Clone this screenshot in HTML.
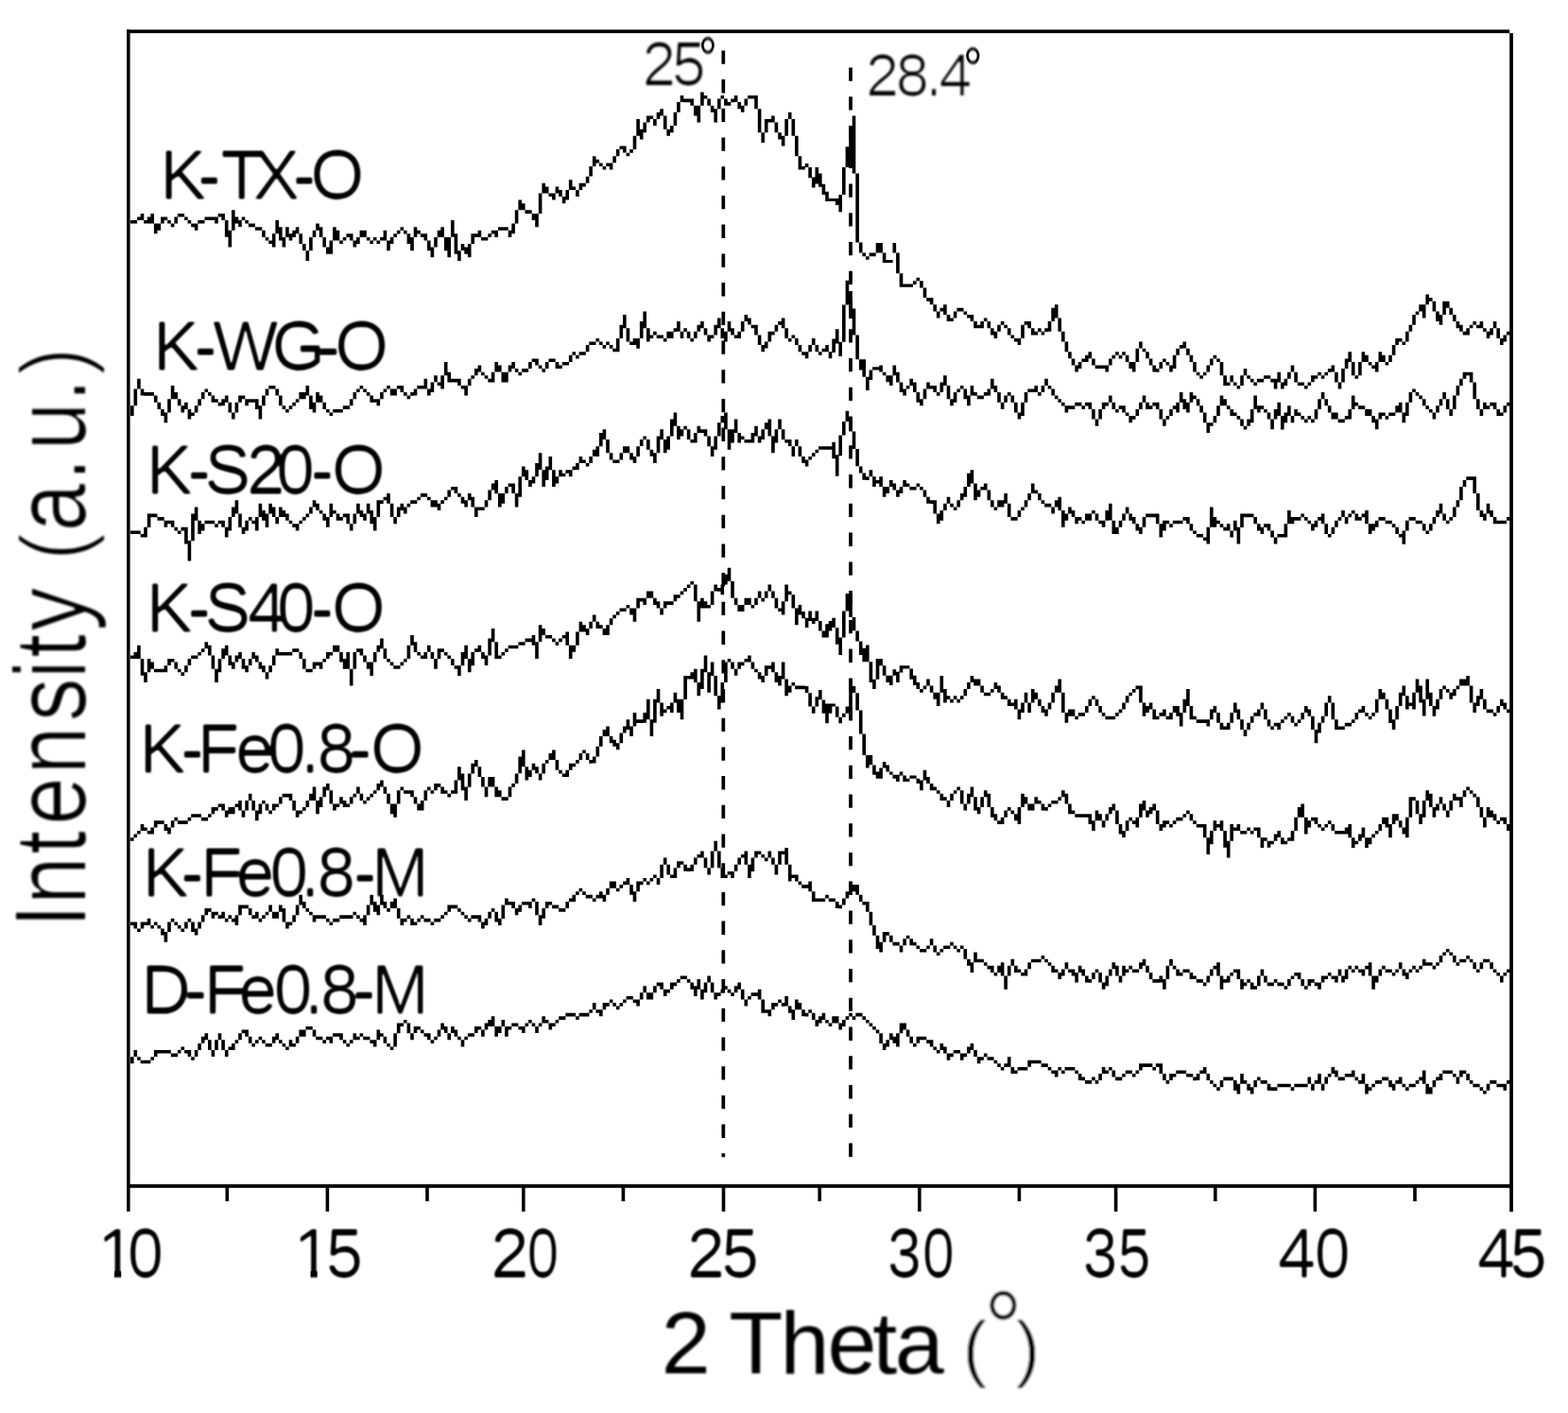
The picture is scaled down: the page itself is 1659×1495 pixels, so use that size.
<!DOCTYPE html>
<html lang="en"><head><meta charset="utf-8"><title>XRD patterns</title>
<style>html,body{margin:0;padding:0;background:#fff}body{width:1659px;height:1495px;overflow:hidden}svg{display:block}text{font-family:'Liberation Sans', sans-serif;fill:#000}</style>
</head><body>
<svg width="1659" height="1495" viewBox="0 0 1659 1495">
<rect x="0" y="0" width="1659" height="1495" fill="#fff"/>
<defs><filter id="lbl" x="-5%" y="-5%" width="110%" height="110%"><feMorphology operator="erode" radius="1 0"/><feGaussianBlur stdDeviation="0.9"/><feComponentTransfer><feFuncA type="table" tableValues="0 0.4 0.75 0.95 1"/></feComponentTransfer></filter><filter id="ann" x="-5%" y="-5%" width="110%" height="110%"><feMorphology operator="erode" radius="1 0"/><feGaussianBlur stdDeviation="0.9"/></filter><filter id="ytl" x="-5%" y="-5%" width="110%" height="110%"><feMorphology operator="erode" radius="0 1"/><feGaussianBlur stdDeviation="0.9"/></filter><filter id="par" x="-5%" y="-5%" width="110%" height="110%"><feMorphology operator="erode" radius="1"/><feGaussianBlur stdDeviation="0.9"/></filter><filter id="soft" x="-5%" y="-5%" width="110%" height="110%"><feGaussianBlur stdDeviation="0.9"/></filter></defs>
<g id="series-labels" filter="url(#lbl)">
<text x="169.2 209.2 233.4 267.9 309.8 328.6" y="209.8" font-size="73">K-TX-O</text>
<text x="161.9 205.3 225.3 287.5 335.5 354.2" y="390.9" font-size="73">K-WG-O</text>
<text x="154.7 198.6 216.4 261.1 292.2 328.8 351.1" y="522.4" font-size="73">K-S20-O</text>
<text x="154.7 198.6 216.4 261.9 293.1 328.8 351.1" y="667.8" font-size="73">K-S40-O</text>
<text x="147.5 191.2 208.7 249.2 282.9 318.1 335.6 369.1 392.1" y="816.6" font-size="73">K-Fe0.8-O</text>
<text x="150.7 191.2 212.0 249.7 285.4 318.1 335.6 374.0 393.1" y="947.7" font-size="73">K-Fe0.8-M</text>
<text x="149.2 195.1 215.8 252.6 289.7 322.0 338.9 373.0 393.1" y="1071.6" font-size="73">D-Fe0.8-M</text>
</g>
<g id="peak-labels">
<text filter="url(#ann)" x="679.4" y="89.9" font-size="64.26" letter-spacing="-4.00">25</text>
<text transform="translate(739.1,84.1) scale(0.768,1)" font-size="64.6" fill="#222" filter="url(#soft)">°</text>
<text filter="url(#ann)" x="916.1" y="100.6" font-size="63.39" letter-spacing="-3.67">28.4</text>
<text transform="translate(1019.1,94.9) scale(0.796,1)" font-size="64.6" fill="#222" filter="url(#soft)">°</text>
</g>
<g id="x-axis-ticks" filter="url(#lbl)">
<text y="1351.2" font-size="72.5"><tspan x="103.1" textLength="40.32" lengthAdjust="spacingAndGlyphs">1</tspan><tspan x="134.9" textLength="37.86" lengthAdjust="spacingAndGlyphs">0</tspan></text>
<text y="1351.2" font-size="72.5"><tspan x="310.6" textLength="40.32" lengthAdjust="spacingAndGlyphs">1</tspan><tspan x="344.9" textLength="38.95" lengthAdjust="spacingAndGlyphs">5</tspan></text>
<text y="1351.2" font-size="72.5"><tspan x="519.2" textLength="40.44" lengthAdjust="spacingAndGlyphs">2</tspan><tspan x="557.7" textLength="33.39" lengthAdjust="spacingAndGlyphs">0</tspan></text>
<text y="1351.2" font-size="72.5"><tspan x="727.0" textLength="39.96" lengthAdjust="spacingAndGlyphs">2</tspan><tspan x="763.4" textLength="39.39" lengthAdjust="spacingAndGlyphs">5</tspan></text>
<text y="1351.2" font-size="72.5"><tspan x="938.9" textLength="35.81" lengthAdjust="spacingAndGlyphs">3</tspan><tspan x="976.1" textLength="33.71" lengthAdjust="spacingAndGlyphs">0</tspan></text>
<text y="1351.2" font-size="72.5"><tspan x="1145.8" textLength="36.53" lengthAdjust="spacingAndGlyphs">3</tspan><tspan x="1182.8" textLength="34.80" lengthAdjust="spacingAndGlyphs">5</tspan></text>
<text y="1351.2" font-size="72.5"><tspan x="1352.0" textLength="40.00" lengthAdjust="spacingAndGlyphs">4</tspan><tspan x="1390.9" textLength="37.42" lengthAdjust="spacingAndGlyphs">0</tspan></text>
<text y="1351.2" font-size="72.5"><tspan x="1563.0" textLength="40.00" lengthAdjust="spacingAndGlyphs">4</tspan><tspan x="1597.8" textLength="38.95" lengthAdjust="spacingAndGlyphs">5</tspan></text>
</g>
<g id="x-axis-title" filter="url(#soft)">
<text x="699.7 745 771.3 825.4 875.4 923.3 946.8" y="1453.3" font-size="93.5">2 Theta</text>
</g>
<g id="x-axis-unit" filter="url(#soft)">
<text y="1452.5" font-size="78"><tspan x="1018.5" stroke="#fff" stroke-width="0.8">(</tspan><tspan x="1040.8" dy="-7.2" font-size="112.5" textLength="41.4" lengthAdjust="spacingAndGlyphs" stroke="#fff" stroke-width="1">°</tspan><tspan x="1074.5" dy="7.2" stroke="#fff" stroke-width="0.8">)</tspan></text>
</g>
<g id="y-title" filter="url(#ytl)">
<text transform="translate(89.9,1000.0) rotate(-90) scale(0.873,1)" font-size="106"><tspan x="20.5 48.8 109.7 145.2 206.6 270.9 322.6 347.9 380.7 430">Intensity </tspan><tspan font-size="96.5" x="466.4">(</tspan><tspan x="500.9 562.0 599.4 657.8">a.u.</tspan><tspan font-size="96.5" x="692.0">)</tspan></text>
</g>
<rect x="104.10" y="1342.6" width="16.90" height="12" fill="#fff"/>
<rect x="128.20" y="1342.6" width="12.6" height="12" fill="#fff"/>
<rect x="311.60" y="1342.6" width="16.90" height="12" fill="#fff"/>
<rect x="335.70" y="1342.6" width="12.6" height="12" fill="#fff"/>
<g fill="#000">
<rect x="134.1" y="31.4" width="1463.1" height="3.7"/>
<rect x="134.1" y="31.4" width="3.5" height="1250.4"/>
<rect x="1597.2" y="35" width="3.7" height="1247"/>
<rect x="134.1" y="1253" width="1466.8" height="3.8"/>
<rect x="344.6" y="1255" width="3.6" height="26.8"/>
<rect x="552.0" y="1255" width="3.6" height="26.8"/>
<rect x="763.7" y="1255" width="3.6" height="26.8"/>
<rect x="971.0" y="1255" width="3.6" height="26.8"/>
<rect x="1178.8" y="1255" width="3.6" height="26.8"/>
<rect x="1389.6" y="1255" width="3.6" height="26.8"/>
<rect x="238.5" y="1255" width="3.6" height="16"/>
<rect x="450.2" y="1255" width="3.6" height="16"/>
<rect x="657.6" y="1255" width="3.6" height="16"/>
<rect x="865.4" y="1255" width="3.6" height="16"/>
<rect x="1076.6" y="1255" width="3.6" height="16"/>
<rect x="1284.0" y="1255" width="3.6" height="16"/>
<rect x="1495.2" y="1255" width="3.6" height="16"/>
</g>
<path d="M765.3 53.4v14.3M765.3 84.1v14.3M765.3 114.8v14.3M765.3 145.5v14.3M765.3 176.2v14.3M765.3 206.9v14.3M765.3 237.6v14.3M765.3 268.4v14.3M765.3 299.1v14.3M765.3 329.8v14.3M765.3 360.5v14.3M765.3 391.2v14.3M765.3 421.9v14.3M765.3 452.6v14.3M765.3 483.3v14.3M765.3 514.0v14.3M765.3 544.7v14.3M765.3 575.4v14.3M765.3 606.1v14.3M765.3 636.8v14.3M765.3 667.6v14.3M765.3 698.3v14.3M765.3 729.0v14.3M765.3 759.7v14.3M765.3 790.4v14.3M765.3 821.1v14.3M765.3 851.8v14.3M765.3 882.5v14.3M765.3 913.2v14.3M765.3 943.9v14.3M765.3 974.6v14.3M765.3 1005.3v14.3M765.3 1036.1v14.3M765.3 1066.8v14.3M765.3 1097.5v14.3M765.3 1128.2v14.3M765.3 1158.9v14.3M765.3 1189.6v14.3M765.3 1220.3v3.9" fill="none" stroke="#000" stroke-width="3.7"/>
<path d="M900.0 71.4v14.3M900.0 102.2v14.3M900.0 132.9v14.3M900.0 163.7v14.3M900.0 194.4v14.3M900.0 225.2v14.3M900.0 256.0v14.3M900.0 286.7v14.3M900.0 317.5v14.3M900.0 348.3v14.3M900.0 379.0v14.3M900.0 409.8v14.3M900.0 440.5v14.3M900.0 471.3v14.3M900.0 502.1v14.3M900.0 532.8v14.3M900.0 563.6v14.3M900.0 594.4v14.3M900.0 625.1v14.3M900.0 655.9v14.3M900.0 686.6v14.3M900.0 717.4v14.3M900.0 748.2v14.3M900.0 778.9v14.3M900.0 809.7v14.3M900.0 840.5v14.3M900.0 871.2v14.3M900.0 902.0v14.3M900.0 932.7v14.3M900.0 963.5v14.3M900.0 994.3v14.3M900.0 1025.0v14.3M900.0 1055.8v14.3M900.0 1086.6v14.3M900.0 1117.3v14.3M900.0 1148.1v14.3M900.0 1178.8v14.3M900.0 1209.6v14.3" fill="none" stroke="#000" stroke-width="3.7"/>
<g fill="none" stroke="#000" stroke-width="3.619">
<path d="M139.8 233.0v3.6M143.3 233.0v3.6M146.9 229.5v3.6M150.5 225.9v7.1M154.0 233.0v3.6M157.6 229.5v7.1M161.2 225.9v10.7M164.7 236.6v10.7M168.3 236.6v7.1M171.9 229.5v7.1M175.4 229.5v3.6M179.0 233.0v3.6M182.6 236.6v3.6M186.2 229.5v7.1M189.7 225.9v3.6M193.3 225.9v3.6M196.9 229.5v3.6M200.4 233.0v3.6M204.0 236.6v3.6M207.6 236.6v7.1M211.1 233.0v3.6M214.7 233.0v3.6M218.3 229.5v3.6M221.8 229.5v3.6M225.4 229.5v3.6M229.0 229.5v7.1M232.5 225.9v3.6M236.1 225.9v7.1M239.7 233.0v17.8M243.3 243.8v17.8M246.8 222.3v21.4M250.4 229.5v7.1M254.0 233.0v7.1M257.5 229.5v3.6M261.1 233.0v3.6M264.7 236.6v3.6M268.2 236.6v3.6M271.8 240.2v3.6M275.4 240.2v3.6M278.9 243.8v7.1M282.5 250.9v3.6M286.1 254.5v3.6M289.7 247.3v14.3M293.2 233.0v14.3M296.8 240.2v14.3M300.4 250.9v10.7M303.9 240.2v10.7M307.5 247.3v7.1M311.1 243.8v7.1M314.6 240.2v7.1M318.2 247.3v10.7M321.8 258.0v7.1M325.3 265.2v10.7M328.9 250.9v14.3M332.5 243.8v7.1M336.0 236.6v7.1M339.6 240.2v10.7M343.2 250.9v10.7M346.8 261.6v7.1M350.3 254.5v14.3M353.9 240.2v14.3M357.5 243.8v10.7M361.0 254.5v3.6M364.6 250.9v3.6M368.2 247.3v3.6M371.7 247.3v7.1M375.3 254.5v7.1M378.9 250.9v7.1M382.4 243.8v7.1M386.0 243.8v7.1M389.6 250.9v3.6M393.2 254.5v3.6M396.7 250.9v3.6M400.3 254.5v3.6M403.9 250.9v3.6M407.4 243.8v10.7M411.0 254.5v10.7M414.6 250.9v7.1M418.1 247.3v3.6M421.7 243.8v3.6M425.3 240.2v3.6M428.8 243.8v3.6M432.4 247.3v10.7M436.0 250.9v14.3M439.5 240.2v10.7M443.1 243.8v3.6M446.7 247.3v3.6M450.3 247.3v7.1M453.8 254.5v10.7M457.4 261.6v10.7M461.0 250.9v10.7M464.5 243.8v7.1M468.1 240.2v10.7M471.7 250.9v14.3M475.2 250.9v21.4M478.8 233.0v17.8M482.4 247.3v21.4M485.9 265.2v10.7M489.5 258.0v7.1M493.1 261.6v7.1M496.7 258.0v14.3M500.2 247.3v10.7M503.8 247.3v3.6M507.4 243.8v7.1M510.9 250.9v3.6M514.5 250.9v3.6M518.1 247.3v3.6M521.6 243.8v3.6M525.2 243.8v7.1M528.8 240.2v3.6M532.3 240.2v3.6M535.9 240.2v3.6M539.5 243.8v7.1M543.1 236.6v10.7M546.6 222.3v14.3M550.2 211.6v10.7M553.8 215.2v7.1M557.3 222.3v3.6M560.9 222.3v3.6M564.5 225.9v7.1M568.0 225.9v14.3M571.6 204.5v21.4M575.2 193.8v10.7M578.7 197.4v7.1M582.3 204.5v3.6M585.9 204.5v7.1M589.4 197.4v7.1M593.0 200.9v7.1M596.6 208.1v7.1M600.2 200.9v10.7M603.7 190.2v10.7M607.3 197.4v3.6M610.9 200.9v7.1M614.4 193.8v7.1M618.0 193.8v3.6M621.6 186.7v7.1M625.1 175.9v10.7M628.7 165.2v10.7M632.3 168.8v3.6M635.8 172.4v3.6M639.4 175.9v3.6M643.0 172.4v3.6M646.6 172.4v7.1M650.1 165.2v7.1M653.7 158.1v7.1M657.3 154.5v3.6M660.8 154.5v7.1M664.4 161.7v3.6M668.0 158.1v3.6M671.5 143.8v14.3M675.1 126.0v17.8M678.7 136.7v10.7M682.2 129.5v10.7M685.8 122.4v7.1M689.4 122.4v3.6M692.9 126.0v7.1M696.5 118.8v7.1M700.1 115.3v7.1M703.7 122.4v14.3M707.2 136.7v7.1M710.8 133.1v7.1M714.4 118.8v14.3M717.9 108.1v10.7M721.5 101.0v7.1M725.1 104.6v3.6M728.6 104.6v3.6M732.2 104.6v7.1M735.8 111.7v10.7M739.3 111.7v17.8M742.9 97.4v14.3M746.5 101.0v3.6M750.1 104.6v7.1M753.6 111.7v7.1M757.2 115.3v14.3M760.8 104.6v10.7M764.3 101.0v3.6M767.9 104.6v7.1M771.5 108.1v3.6M775.0 104.6v3.6M778.6 101.0v7.1M782.2 108.1v7.1M785.7 111.7v7.1M789.3 104.6v7.1M792.9 101.0v3.6M796.4 101.0v3.6M800.0 101.0v14.3M803.6 115.3v25.0M807.2 140.3v10.7M810.7 126.0v14.3M814.3 126.0v3.6M817.9 122.4v7.1M821.4 129.5v10.7M825.0 140.3v7.1M828.6 143.8v10.7M832.1 126.0v17.8M835.7 118.8v7.1M839.3 126.0v17.8M842.8 143.8v21.4M846.4 165.2v14.3M850.0 175.9v3.6M853.6 173.0v4.0M857.1 177.0v11.2M860.7 187.4v11.2M864.3 177.0v17.6M867.8 183.4v14.4M871.4 194.7v11.2M875.0 202.7v10.4M878.5 209.9v3.2M882.1 209.9v3.2M885.7 209.9v7.2M889.2 205.9v18.4M892.8 177.0v28.9M896.4 155.3v21.7M900.0 133.7v43.3M903.5 122.5v61.0M907.1 183.4v73.0M910.7 256.4v11.2M914.2 267.6v3.7M917.8 271.3v3.5M921.4 267.6v3.7M924.9 267.6v3.7M928.5 256.9v10.7M932.1 256.9v10.7M935.6 267.6v10.4M939.2 274.9v3.2M942.8 274.9v3.2M946.3 256.9v10.7M949.9 267.6v21.7M953.5 289.3v14.4M957.1 300.5v3.2M960.6 300.5v3.2M964.2 300.5v3.2M967.8 297.3v3.6M971.3 293.7v3.6M974.9 297.3v7.1M978.5 304.4v10.7M982.0 315.1v3.6M985.6 315.1v7.1M989.2 322.3v7.1M992.7 329.4v7.1M996.3 325.8v3.6M999.9 322.3v10.7M1003.5 333.0v7.1M1007.0 336.5v3.6M1010.6 329.4v7.1M1014.2 325.8v3.6M1017.7 325.8v3.6M1021.3 329.4v3.6M1024.9 333.0v3.6M1028.4 333.0v7.1M1032.0 340.1v7.1M1035.6 343.7v3.6M1039.1 340.1v7.1M1042.7 336.5v3.6M1046.3 340.1v7.1M1049.8 347.3v7.1M1053.4 350.8v7.1M1057.0 343.7v7.1M1060.6 340.1v3.6M1064.1 343.7v3.6M1067.7 347.3v7.1M1071.3 354.4v3.6M1074.8 358.0v3.6M1078.4 358.0v7.1M1082.0 343.7v14.3M1085.5 340.1v3.6M1089.1 340.1v7.1M1092.7 347.3v7.1M1096.2 350.8v3.6M1099.8 347.3v3.6M1103.4 350.8v3.6M1107.0 347.3v3.6M1110.5 340.1v10.7M1114.1 325.8v14.3M1117.7 322.3v14.3M1121.2 336.5v14.3M1124.8 350.8v10.7M1128.4 361.5v10.7M1131.9 372.2v7.1M1135.5 379.4v7.1M1139.1 386.5v7.1M1142.6 382.9v7.1M1146.2 379.4v3.6M1149.8 375.8v7.1M1153.3 372.2v7.1M1156.9 379.4v7.1M1160.5 386.5v3.6M1164.1 386.5v3.6M1167.6 386.5v3.6M1171.2 386.5v7.1M1174.8 379.4v7.1M1178.3 375.8v3.6M1181.9 372.2v3.6M1185.5 375.8v3.6M1189.0 372.2v3.6M1192.6 375.8v7.1M1196.2 382.9v7.1M1199.7 382.9v10.7M1203.3 368.7v14.3M1206.9 361.5v7.1M1210.5 368.7v3.6M1214.0 372.2v7.1M1217.6 379.4v7.1M1221.2 386.5v7.1M1224.7 390.1v3.6M1228.3 382.9v7.1M1231.9 379.4v3.6M1235.4 382.9v3.6M1239.0 386.5v7.1M1242.6 375.8v14.3M1246.1 368.7v7.1M1249.7 365.1v3.6M1253.3 361.5v7.1M1256.9 368.7v7.1M1260.4 375.8v7.1M1264.0 382.9v10.7M1267.6 393.7v3.6M1271.1 397.2v3.6M1274.7 393.7v3.6M1278.3 386.5v7.1M1281.8 379.4v7.1M1285.4 375.8v3.6M1289.0 379.4v3.6M1292.5 382.9v14.3M1296.1 397.2v10.7M1299.7 404.4v3.6M1303.2 397.2v7.1M1306.8 404.4v3.6M1310.4 407.9v3.6M1314.0 397.2v10.7M1317.5 390.1v7.1M1321.1 397.2v3.6M1324.7 400.8v3.6M1328.2 404.4v3.6M1331.8 400.8v3.6M1335.4 400.8v3.6M1338.9 397.2v3.6M1342.5 397.2v3.6M1346.1 400.8v3.6M1349.6 400.8v10.7M1353.2 393.7v10.7M1356.8 404.4v7.1M1360.4 400.8v7.1M1363.9 393.7v7.1M1367.5 386.5v7.1M1371.1 393.7v10.7M1374.6 404.4v3.6M1378.2 404.4v3.6M1381.8 407.9v3.6M1385.3 404.4v3.6M1388.9 397.2v7.1M1392.5 397.2v3.6M1396.0 393.7v3.6M1399.6 397.2v3.6M1403.2 393.7v3.6M1406.7 390.1v3.6M1410.3 386.5v7.1M1413.9 393.7v10.7M1417.5 404.4v7.1M1421.0 390.1v14.3M1424.6 379.4v10.7M1428.2 372.2v10.7M1431.7 382.9v14.3M1435.3 397.2v3.6M1438.9 382.9v14.3M1442.4 372.2v10.7M1446.0 375.8v7.1M1449.6 382.9v3.6M1453.1 386.5v3.6M1456.7 382.9v10.7M1460.3 372.2v10.7M1463.9 375.8v7.1M1467.4 382.9v3.6M1471.0 375.8v7.1M1474.6 365.1v10.7M1478.1 358.0v7.1M1481.7 358.0v3.6M1485.3 361.5v3.6M1488.8 350.8v10.7M1492.4 343.7v7.1M1496.0 333.0v10.7M1499.5 329.4v3.6M1503.1 322.3v7.1M1506.7 322.3v14.3M1510.2 311.6v10.7M1513.8 315.1v3.6M1517.4 318.7v10.7M1521.0 329.4v10.7M1524.5 333.0v10.7M1528.1 318.7v14.3M1531.7 318.7v7.1M1535.2 325.8v7.1M1538.8 333.0v7.1M1542.4 340.1v7.1M1545.9 343.7v7.1M1549.5 350.8v3.6M1553.1 347.3v7.1M1556.6 343.7v3.6M1560.2 340.1v3.6M1563.8 343.7v3.6M1567.4 340.1v7.1M1570.9 347.3v3.6M1574.5 350.8v7.1M1578.1 347.3v7.1M1581.6 340.1v7.1M1585.2 347.3v10.7M1588.8 358.0v7.1M1592.3 354.4v7.1M1595.9 350.8v3.6"/>
<path d="M139.8 429.3v10.7M143.3 411.5v17.8M146.9 400.8v10.7M150.5 411.5v7.1M154.0 415.1v3.6M157.6 415.1v3.6M161.2 415.1v3.6M164.7 418.6v7.1M168.3 425.8v7.1M171.9 432.9v7.1M175.4 436.5v10.7M179.0 422.2v14.3M182.6 407.9v14.3M186.2 415.1v7.1M189.7 422.2v7.1M193.3 429.3v7.1M196.9 425.8v7.1M200.4 432.9v10.7M204.0 436.5v3.6M207.6 429.3v7.1M211.1 422.2v7.1M214.7 415.1v7.1M218.3 411.5v3.6M221.8 415.1v3.6M225.4 418.6v7.1M229.0 422.2v3.6M232.5 425.8v3.6M236.1 422.2v7.1M239.7 418.6v7.1M243.3 425.8v10.7M246.8 436.5v7.1M250.4 425.8v10.7M254.0 418.6v7.1M257.5 418.6v3.6M261.1 422.2v7.1M264.7 422.2v3.6M268.2 422.2v3.6M271.8 422.2v10.7M275.4 429.3v14.3M278.9 418.6v10.7M282.5 411.5v7.1M286.1 407.9v3.6M289.7 407.9v3.6M293.2 411.5v7.1M296.8 418.6v10.7M300.4 429.3v3.6M303.9 432.9v3.6M307.5 429.3v3.6M311.1 425.8v3.6M314.6 422.2v3.6M318.2 415.1v7.1M321.8 415.1v7.1M325.3 407.9v10.7M328.9 418.6v14.3M332.5 425.8v10.7M336.0 415.1v10.7M339.6 418.6v7.1M343.2 425.8v7.1M346.8 432.9v3.6M350.3 436.5v3.6M353.9 432.9v3.6M357.5 432.9v3.6M361.0 432.9v3.6M364.6 429.3v3.6M368.2 429.3v3.6M371.7 422.2v7.1M375.3 415.1v7.1M378.9 411.5v3.6M382.4 407.9v3.6M386.0 411.5v3.6M389.6 415.1v3.6M393.2 418.6v7.1M396.7 422.2v3.6M400.3 422.2v7.1M403.9 415.1v7.1M407.4 411.5v3.6M411.0 407.9v3.6M414.6 411.5v7.1M418.1 411.5v7.1M421.7 407.9v3.6M425.3 407.9v7.1M428.8 415.1v3.6M432.4 418.6v3.6M436.0 415.1v3.6M439.5 411.5v7.1M443.1 407.9v3.6M446.7 407.9v3.6M450.3 400.8v10.7M453.8 411.5v7.1M457.4 404.4v10.7M461.0 397.2v7.1M464.5 404.4v3.6M468.1 397.2v14.3M471.7 382.9v14.3M475.2 393.7v10.7M478.8 400.8v3.6M482.4 400.8v3.6M485.9 400.8v7.1M489.5 407.9v3.6M493.1 407.9v10.7M496.7 400.8v7.1M500.2 397.2v3.6M503.8 390.1v7.1M507.4 386.5v7.1M510.9 393.7v3.6M514.5 397.2v3.6M518.1 400.8v3.6M521.6 393.7v10.7M525.2 382.9v10.7M528.8 386.5v7.1M532.3 393.7v10.7M535.9 393.7v10.7M539.5 386.5v7.1M543.1 382.9v7.1M546.6 390.1v3.6M550.2 393.7v3.6M553.8 390.1v3.6M557.3 390.1v3.6M560.9 382.9v7.1M564.5 379.4v3.6M568.0 379.4v7.1M571.6 386.5v3.6M575.2 390.1v3.6M578.7 382.9v7.1M582.3 379.4v3.6M585.9 379.4v3.6M589.4 382.9v7.1M593.0 386.5v3.6M596.6 382.9v3.6M600.2 382.9v3.6M603.7 375.8v7.1M607.3 372.2v3.6M610.9 375.8v3.6M614.4 372.2v3.6M618.0 372.2v3.6M621.6 365.1v7.1M625.1 361.5v3.6M628.7 361.5v3.6M632.3 358.0v3.6M635.8 361.5v3.6M639.4 365.1v3.6M643.0 361.5v3.6M646.6 365.1v3.6M650.1 368.7v3.6M653.7 358.0v14.3M657.3 343.7v14.3M660.8 333.0v14.3M664.4 347.3v14.3M668.0 361.5v3.6M671.5 358.0v7.1M675.1 358.0v10.7M678.7 340.1v17.8M682.2 329.4v17.8M685.8 347.3v14.3M689.4 354.4v3.6M692.9 350.8v3.6M696.5 354.4v3.6M700.1 354.4v3.6M703.7 358.0v3.6M707.2 350.8v7.1M710.8 350.8v7.1M714.4 347.3v3.6M717.9 340.1v10.7M721.5 350.8v7.1M725.1 347.3v3.6M728.6 350.8v7.1M732.2 358.0v3.6M735.8 350.8v7.1M739.3 343.7v7.1M742.9 340.1v7.1M746.5 347.3v7.1M750.1 354.4v7.1M753.6 354.4v3.6M757.2 343.7v10.7M760.8 336.5v10.7M764.3 347.3v10.7M767.9 350.8v10.7M771.5 340.1v10.7M775.0 347.3v7.1M778.6 354.4v3.6M782.2 350.8v7.1M785.7 340.1v10.7M789.3 333.0v7.1M792.9 336.5v7.1M796.4 343.7v3.6M800.0 343.7v10.7M803.6 354.4v10.7M807.2 365.1v7.1M810.7 361.5v7.1M814.3 350.8v10.7M817.9 350.8v3.6M821.4 343.7v7.1M825.0 340.1v3.6M828.6 336.5v10.7M832.1 347.3v10.7M835.7 358.0v3.6M839.3 354.4v3.6M842.8 358.0v7.1M846.4 365.1v7.1M850.0 372.2v3.6M853.6 372.2v7.1M857.1 365.1v7.1M860.7 358.0v7.1M864.3 365.1v7.1M867.8 372.2v3.6M871.4 368.7v3.6M875.0 365.1v7.1M878.5 372.2v7.1M882.1 358.6v14.4M885.7 348.2v15.2M889.2 361.8v15.2M892.8 322.5v39.3M896.4 296.8v25.7M900.0 308.1v28.9M903.5 326.5v28.1M907.1 354.6v25.7M910.7 380.3v11.2M914.2 380.3v18.4M917.8 398.7v14.4M921.4 391.5v10.4M924.9 388.3v3.2M928.5 388.3v3.2M932.1 386.5v7.1M935.6 393.7v3.6M939.2 397.2v7.1M942.8 397.2v10.7M946.3 386.5v10.7M949.9 393.7v10.7M953.5 404.4v10.7M957.1 411.5v7.1M960.6 407.9v3.6M964.2 400.8v7.1M967.8 404.4v10.7M971.3 415.1v10.7M974.9 422.2v7.1M978.5 411.5v10.7M982.0 404.4v7.1M985.6 407.9v3.6M989.2 407.9v7.1M992.7 415.1v3.6M996.3 404.4v10.7M999.9 397.2v10.7M1003.5 407.9v14.3M1007.0 422.2v7.1M1010.6 415.1v10.7M1014.2 411.5v3.6M1017.7 407.9v3.6M1021.3 411.5v10.7M1024.9 418.6v10.7M1028.4 407.9v10.7M1032.0 415.1v3.6M1035.6 418.6v3.6M1039.1 418.6v3.6M1042.7 415.1v3.6M1046.3 411.5v7.1M1049.8 400.8v10.7M1053.4 407.9v7.1M1057.0 415.1v10.7M1060.6 425.8v7.1M1064.1 418.6v7.1M1067.7 415.1v3.6M1071.3 418.6v7.1M1074.8 425.8v10.7M1078.4 436.5v7.1M1082.0 425.8v14.3M1085.5 415.1v10.7M1089.1 411.5v3.6M1092.7 411.5v3.6M1096.2 407.9v7.1M1099.8 415.1v3.6M1103.4 407.9v7.1M1107.0 400.8v7.1M1110.5 407.9v3.6M1114.1 411.5v7.1M1117.7 418.6v3.6M1121.2 422.2v3.6M1124.8 425.8v3.6M1128.4 429.3v7.1M1131.9 429.3v3.6M1135.5 429.3v3.6M1139.1 425.8v3.6M1142.6 425.8v3.6M1146.2 429.3v3.6M1149.8 425.8v3.6M1153.3 425.8v7.1M1156.9 432.9v10.7M1160.5 443.6v7.1M1164.1 432.9v10.7M1167.6 425.8v7.1M1171.2 425.8v3.6M1174.8 418.6v7.1M1178.3 425.8v7.1M1181.9 432.9v3.6M1185.5 429.3v3.6M1189.0 429.3v7.1M1192.6 436.5v3.6M1196.2 440.1v7.1M1199.7 440.1v3.6M1203.3 432.9v7.1M1206.9 425.8v7.1M1210.5 418.6v7.1M1214.0 425.8v7.1M1217.6 429.3v3.6M1221.2 425.8v3.6M1224.7 425.8v7.1M1228.3 432.9v10.7M1231.9 443.6v7.1M1235.4 440.1v3.6M1239.0 432.9v7.1M1242.6 429.3v3.6M1246.1 425.8v10.7M1249.7 415.1v10.7M1253.3 422.2v10.7M1256.9 425.8v10.7M1260.4 415.1v10.7M1264.0 418.6v3.6M1267.6 422.2v7.1M1271.1 429.3v7.1M1274.7 436.5v10.7M1278.3 447.2v10.7M1281.8 447.2v3.6M1285.4 440.1v7.1M1289.0 429.3v10.7M1292.5 418.6v10.7M1296.1 422.2v7.1M1299.7 429.3v3.6M1303.2 432.9v7.1M1306.8 436.5v3.6M1310.4 440.1v3.6M1314.0 443.6v7.1M1317.5 450.8v3.6M1321.1 443.6v7.1M1324.7 432.9v14.3M1328.2 418.6v14.3M1331.8 429.3v7.1M1335.4 429.3v3.6M1338.9 432.9v3.6M1342.5 436.5v7.1M1346.1 443.6v10.7M1349.6 432.9v10.7M1353.2 425.8v14.3M1356.8 440.1v14.3M1360.4 436.5v10.7M1363.9 429.3v10.7M1367.5 440.1v7.1M1371.1 432.9v7.1M1374.6 436.5v3.6M1378.2 440.1v3.6M1381.8 443.6v3.6M1385.3 440.1v3.6M1388.9 443.6v3.6M1392.5 432.9v10.7M1396.0 422.2v10.7M1399.6 415.1v7.1M1403.2 422.2v7.1M1406.7 429.3v7.1M1410.3 436.5v7.1M1413.9 436.5v7.1M1417.5 443.6v3.6M1421.0 443.6v3.6M1424.6 440.1v3.6M1428.2 432.9v10.7M1431.7 418.6v14.3M1435.3 425.8v3.6M1438.9 429.3v3.6M1442.4 429.3v3.6M1446.0 432.9v7.1M1449.6 432.9v7.1M1453.1 440.1v7.1M1456.7 443.6v10.7M1460.3 436.5v7.1M1463.9 436.5v3.6M1467.4 440.1v3.6M1471.0 436.5v3.6M1474.6 436.5v3.6M1478.1 429.3v7.1M1481.7 425.8v10.7M1485.3 436.5v10.7M1488.8 425.8v14.3M1492.4 415.1v10.7M1496.0 411.5v3.6M1499.5 415.1v3.6M1503.1 418.6v3.6M1506.7 422.2v7.1M1510.2 429.3v3.6M1513.8 432.9v3.6M1517.4 436.5v7.1M1521.0 429.3v7.1M1524.5 422.2v7.1M1528.1 415.1v7.1M1531.7 422.2v10.7M1535.2 432.9v7.1M1538.8 418.6v14.3M1542.4 407.9v10.7M1545.9 400.8v7.1M1549.5 393.7v7.1M1553.1 393.7v3.6M1556.6 393.7v10.7M1560.2 404.4v17.8M1563.8 422.2v10.7M1567.4 432.9v7.1M1570.9 425.8v7.1M1574.5 429.3v3.6M1578.1 425.8v3.6M1581.6 425.8v7.1M1585.2 432.9v7.1M1588.8 436.5v3.6M1592.3 429.3v7.1M1595.9 425.8v3.6"/>
<path d="M139.8 561.4v3.6M143.3 561.4v3.6M146.9 561.4v3.6M150.5 565.0v3.6M154.0 557.8v10.7M157.6 543.6v14.3M161.2 543.6v3.6M164.7 543.6v3.6M168.3 547.1v3.6M171.9 547.1v3.6M175.4 550.7v7.1M179.0 550.7v3.6M182.6 550.7v7.1M186.2 557.8v3.6M189.7 561.4v3.6M193.3 557.8v3.6M196.9 557.8v17.8M200.4 572.1v21.4M204.0 543.6v28.6M207.6 536.4v14.3M211.1 550.7v14.3M214.7 554.3v7.1M218.3 550.7v3.6M221.8 550.7v3.6M225.4 550.7v3.6M229.0 554.3v3.6M232.5 550.7v3.6M236.1 550.7v7.1M239.7 557.8v10.7M243.3 547.1v14.3M246.8 536.4v10.7M250.4 529.3v14.3M254.0 543.6v14.3M257.5 557.8v7.1M261.1 550.7v10.7M264.7 547.1v3.6M268.2 550.7v3.6M271.8 547.1v14.3M275.4 532.8v14.3M278.9 540.0v10.7M282.5 543.6v14.3M286.1 532.8v10.7M289.7 536.4v10.7M293.2 547.1v7.1M296.8 536.4v10.7M300.4 540.0v7.1M303.9 543.6v7.1M307.5 550.7v3.6M311.1 554.3v3.6M314.6 554.3v7.1M318.2 550.7v3.6M321.8 547.1v3.6M325.3 543.6v3.6M328.9 536.4v7.1M332.5 529.3v7.1M336.0 532.8v7.1M339.6 540.0v3.6M343.2 543.6v7.1M346.8 547.1v10.7M350.3 532.8v14.3M353.9 540.0v3.6M357.5 543.6v7.1M361.0 547.1v3.6M364.6 543.6v3.6M368.2 543.6v10.7M371.7 554.3v7.1M375.3 543.6v10.7M378.9 532.8v10.7M382.4 540.0v7.1M386.0 543.6v7.1M389.6 532.8v10.7M393.2 540.0v14.3M396.7 547.1v14.3M400.3 529.3v17.8M403.9 529.3v3.6M407.4 525.7v3.6M411.0 522.1v10.7M414.6 532.8v14.3M418.1 547.1v7.1M421.7 536.4v10.7M425.3 532.8v7.1M428.8 536.4v7.1M432.4 532.8v3.6M436.0 529.3v3.6M439.5 529.3v3.6M443.1 525.7v3.6M446.7 522.1v3.6M450.3 522.1v3.6M453.8 525.7v3.6M457.4 529.3v7.1M461.0 529.3v7.1M464.5 532.8v7.1M468.1 529.3v3.6M471.7 525.7v3.6M475.2 518.6v7.1M478.8 515.0v3.6M482.4 515.0v7.1M485.9 522.1v3.6M489.5 525.7v7.1M493.1 529.3v7.1M496.7 522.1v7.1M500.2 525.7v10.7M503.8 536.4v10.7M507.4 536.4v3.6M510.9 536.4v3.6M514.5 529.3v7.1M518.1 518.6v10.7M521.6 511.4v7.1M525.2 507.9v14.3M528.8 522.1v14.3M532.3 522.1v10.7M535.9 515.0v7.1M539.5 511.4v3.6M543.1 511.4v10.7M546.6 522.1v14.3M550.2 504.3v21.4M553.8 493.6v10.7M557.3 497.2v10.7M560.9 507.9v7.1M564.5 504.3v7.1M568.0 490.0v14.3M571.6 479.3v17.8M575.2 497.2v17.8M578.7 493.6v14.3M582.3 482.9v14.3M585.9 497.2v17.8M589.4 504.3v7.1M593.0 497.2v7.1M596.6 500.7v3.6M600.2 497.2v3.6M603.7 497.2v7.1M607.3 493.6v3.6M610.9 490.0v7.1M614.4 482.9v7.1M618.0 486.4v3.6M621.6 490.0v3.6M625.1 482.9v7.1M628.7 475.7v7.1M632.3 472.2v10.7M635.8 457.9v14.3M639.4 454.3v10.7M643.0 465.0v14.3M646.6 479.3v7.1M650.1 486.4v3.6M653.7 486.4v3.6M657.3 479.3v7.1M660.8 472.2v7.1M664.4 472.2v7.1M668.0 479.3v7.1M671.5 482.9v7.1M675.1 472.2v10.7M678.7 465.0v7.1M682.2 461.5v3.6M685.8 465.0v10.7M689.4 475.7v7.1M692.9 479.3v10.7M696.5 461.5v17.8M700.1 454.3v10.7M703.7 465.0v14.3M707.2 461.5v14.3M710.8 443.6v17.8M714.4 436.5v14.3M717.9 450.8v14.3M721.5 454.3v7.1M725.1 450.8v3.6M728.6 454.3v10.7M732.2 465.0v3.6M735.8 457.9v10.7M739.3 450.8v7.1M742.9 454.3v3.6M746.5 454.3v7.1M750.1 461.5v10.7M753.6 472.2v10.7M757.2 461.5v14.3M760.8 447.2v14.3M764.3 440.1v7.1M767.9 436.5v17.8M771.5 454.3v21.4M775.0 454.3v14.3M778.6 443.6v14.3M782.2 457.9v10.7M785.7 461.5v3.6M789.3 465.0v3.6M792.9 465.0v3.6M796.4 457.9v10.7M800.0 450.8v10.7M803.6 461.5v7.1M807.2 454.3v10.7M810.7 447.2v7.1M814.3 443.6v17.8M817.9 461.5v17.8M821.4 454.3v14.3M825.0 443.6v10.7M828.6 454.3v10.7M832.1 465.0v3.6M835.7 465.0v7.1M839.3 472.2v10.7M842.8 465.0v7.1M846.4 472.2v10.7M850.0 482.9v7.1M853.6 486.4v7.1M857.1 482.9v3.6M860.7 479.3v3.6M864.3 475.7v3.6M867.8 472.2v3.6M871.4 472.2v3.6M875.0 472.2v3.6M878.5 472.2v3.6M882.1 467.7v17.6M885.7 481.3v22.5M889.2 460.5v21.7M892.8 446.0v14.4M896.4 434.8v11.2M900.0 442.0v14.4M903.5 456.5v18.4M907.1 474.9v18.4M910.7 493.4v7.2M914.2 500.6v7.2M917.8 504.3v3.6M921.4 497.2v7.1M924.9 504.3v10.7M928.5 507.9v3.6M932.1 504.3v10.7M935.6 515.0v10.7M939.2 515.0v7.1M942.8 507.9v7.1M946.3 511.4v7.1M949.9 518.6v7.1M953.5 515.0v7.1M957.1 507.9v7.1M960.6 511.4v3.6M964.2 515.0v3.6M967.8 515.0v3.6M971.3 511.4v3.6M974.9 515.0v3.6M978.5 518.6v7.1M982.0 525.7v7.1M985.6 529.3v3.6M989.2 529.3v14.3M992.7 543.6v10.7M996.3 540.0v10.7M999.9 532.8v7.1M1003.5 525.7v7.1M1007.0 532.8v3.6M1010.6 536.4v3.6M1014.2 529.3v7.1M1017.7 522.1v7.1M1021.3 515.0v10.7M1024.9 500.7v14.3M1028.4 497.2v14.3M1032.0 511.4v17.8M1035.6 518.6v7.1M1039.1 515.0v3.6M1042.7 511.4v7.1M1046.3 518.6v10.7M1049.8 529.3v7.1M1053.4 536.4v3.6M1057.0 529.3v7.1M1060.6 529.3v7.1M1064.1 522.1v10.7M1067.7 532.8v14.3M1071.3 547.1v3.6M1074.8 547.1v3.6M1078.4 540.0v7.1M1082.0 536.4v3.6M1085.5 529.3v7.1M1089.1 522.1v7.1M1092.7 511.4v10.7M1096.2 518.6v3.6M1099.8 522.1v7.1M1103.4 529.3v3.6M1107.0 532.8v3.6M1110.5 532.8v3.6M1114.1 536.4v7.1M1117.7 529.3v7.1M1121.2 525.7v14.3M1124.8 540.0v17.8M1128.4 543.6v7.1M1131.9 536.4v7.1M1135.5 540.0v7.1M1139.1 547.1v7.1M1142.6 547.1v3.6M1146.2 550.7v3.6M1149.8 543.6v7.1M1153.3 543.6v7.1M1156.9 540.0v3.6M1160.5 543.6v7.1M1164.1 550.7v3.6M1167.6 550.7v7.1M1171.2 540.0v10.7M1174.8 532.8v17.8M1178.3 550.7v14.3M1181.9 557.8v7.1M1185.5 550.7v7.1M1189.0 543.6v7.1M1192.6 536.4v7.1M1196.2 543.6v7.1M1199.7 547.1v7.1M1203.3 554.3v7.1M1206.9 557.8v7.1M1210.5 547.1v10.7M1214.0 543.6v3.6M1217.6 543.6v3.6M1221.2 543.6v3.6M1224.7 543.6v10.7M1228.3 554.3v14.3M1231.9 550.7v10.7M1235.4 550.7v3.6M1239.0 554.3v3.6M1242.6 550.7v3.6M1246.1 550.7v3.6M1249.7 550.7v3.6M1253.3 547.1v3.6M1256.9 547.1v7.1M1260.4 554.3v7.1M1264.0 561.4v3.6M1267.6 565.0v3.6M1271.1 565.0v3.6M1274.7 568.5v3.6M1278.3 557.8v17.8M1281.8 536.4v21.4M1285.4 547.1v10.7M1289.0 550.7v3.6M1292.5 554.3v3.6M1296.1 557.8v3.6M1299.7 554.3v7.1M1303.2 561.4v7.1M1306.8 550.7v10.7M1310.4 557.8v17.8M1314.0 543.6v14.3M1317.5 543.6v3.6M1321.1 543.6v3.6M1324.7 543.6v3.6M1328.2 547.1v7.1M1331.8 554.3v7.1M1335.4 557.8v7.1M1338.9 554.3v3.6M1342.5 554.3v7.1M1346.1 561.4v7.1M1349.6 568.5v7.1M1353.2 565.0v3.6M1356.8 565.0v3.6M1360.4 554.3v14.3M1363.9 540.0v14.3M1367.5 547.1v7.1M1371.1 547.1v3.6M1374.6 547.1v3.6M1378.2 543.6v3.6M1381.8 547.1v3.6M1385.3 550.7v3.6M1388.9 554.3v7.1M1392.5 550.7v7.1M1396.0 547.1v3.6M1399.6 543.6v10.7M1403.2 554.3v10.7M1406.7 565.0v3.6M1410.3 557.8v7.1M1413.9 550.7v7.1M1417.5 547.1v3.6M1421.0 540.0v7.1M1424.6 547.1v7.1M1428.2 543.6v3.6M1431.7 540.0v3.6M1435.3 543.6v7.1M1438.9 547.1v3.6M1442.4 543.6v3.6M1446.0 540.0v14.3M1449.6 554.3v10.7M1453.1 554.3v7.1M1456.7 550.7v7.1M1460.3 547.1v3.6M1463.9 547.1v3.6M1467.4 550.7v3.6M1471.0 550.7v3.6M1474.6 554.3v3.6M1478.1 557.8v7.1M1481.7 565.0v3.6M1485.3 561.4v14.3M1488.8 550.7v10.7M1492.4 547.1v3.6M1496.0 547.1v3.6M1499.5 550.7v3.6M1503.1 550.7v3.6M1506.7 554.3v7.1M1510.2 561.4v3.6M1513.8 554.3v7.1M1517.4 547.1v7.1M1521.0 540.0v7.1M1524.5 532.8v10.7M1528.1 543.6v7.1M1531.7 550.7v3.6M1535.2 547.1v3.6M1538.8 536.4v10.7M1542.4 529.3v7.1M1545.9 515.0v14.3M1549.5 507.9v7.1M1553.1 504.3v3.6M1556.6 504.3v3.6M1560.2 504.3v17.8M1563.8 522.1v17.8M1567.4 540.0v7.1M1570.9 543.6v7.1M1574.5 532.8v10.7M1578.1 540.0v7.1M1581.6 547.1v7.1M1585.2 550.7v3.6M1588.8 550.7v3.6M1592.3 550.7v3.6M1595.9 547.1v3.6"/>
<path d="M139.8 693.4v3.6M143.3 689.9v7.1M146.9 682.7v14.3M150.5 697.0v17.8M154.0 711.3v10.7M157.6 697.0v14.3M161.2 700.6v7.1M164.7 707.7v3.6M168.3 707.7v3.6M171.9 707.7v3.6M175.4 704.2v7.1M179.0 697.0v7.1M182.6 697.0v3.6M186.2 700.6v7.1M189.7 707.7v3.6M193.3 711.3v3.6M196.9 704.2v7.1M200.4 697.0v7.1M204.0 693.4v3.6M207.6 693.4v3.6M211.1 689.9v3.6M214.7 686.3v3.6M218.3 679.2v7.1M221.8 682.7v10.7M225.4 693.4v14.3M229.0 707.7v14.3M232.5 697.0v14.3M236.1 686.3v10.7M239.7 682.7v10.7M243.3 693.4v10.7M246.8 700.6v7.1M250.4 693.4v7.1M254.0 689.9v7.1M257.5 697.0v10.7M261.1 704.2v7.1M264.7 697.0v7.1M268.2 689.9v7.1M271.8 693.4v7.1M275.4 700.6v7.1M278.9 704.2v7.1M282.5 711.3v7.1M286.1 704.2v7.1M289.7 693.4v10.7M293.2 686.3v7.1M296.8 689.9v3.6M300.4 689.9v3.6M303.9 689.9v3.6M307.5 689.9v3.6M311.1 686.3v3.6M314.6 686.3v3.6M318.2 689.9v7.1M321.8 697.0v10.7M325.3 707.7v3.6M328.9 707.7v3.6M332.5 700.6v7.1M336.0 700.6v3.6M339.6 700.6v7.1M343.2 697.0v3.6M346.8 689.9v7.1M350.3 689.9v3.6M353.9 682.7v7.1M357.5 682.7v7.1M361.0 689.9v10.7M364.6 697.0v10.7M368.2 689.9v17.8M371.7 707.7v17.8M375.3 689.9v17.8M378.9 686.3v3.6M382.4 686.3v7.1M386.0 693.4v7.1M389.6 700.6v7.1M393.2 700.6v14.3M396.7 689.9v10.7M400.3 682.7v7.1M403.9 675.6v10.7M407.4 686.3v10.7M411.0 697.0v3.6M414.6 700.6v3.6M418.1 704.2v3.6M421.7 704.2v3.6M425.3 700.6v3.6M428.8 697.0v3.6M432.4 682.7v14.3M436.0 672.0v10.7M439.5 679.2v10.7M443.1 689.9v3.6M446.7 693.4v3.6M450.3 689.9v7.1M453.8 682.7v7.1M457.4 689.9v7.1M461.0 697.0v10.7M464.5 686.3v10.7M468.1 686.3v3.6M471.7 689.9v3.6M475.2 693.4v3.6M478.8 697.0v7.1M482.4 704.2v3.6M485.9 704.2v10.7M489.5 689.9v14.3M493.1 682.7v14.3M496.7 697.0v14.3M500.2 689.9v14.3M503.8 686.3v3.6M507.4 682.7v7.1M510.9 689.9v7.1M514.5 693.4v10.7M518.1 675.6v17.8M521.6 664.9v14.3M525.2 679.2v17.8M528.8 693.4v3.6M532.3 689.9v3.6M535.9 686.3v3.6M539.5 682.7v3.6M543.1 682.7v3.6M546.6 682.7v3.6M550.2 679.2v3.6M553.8 679.2v3.6M557.3 675.6v3.6M560.9 675.6v3.6M564.5 672.0v10.7M568.0 679.2v17.8M571.6 661.3v17.8M575.2 664.9v7.1M578.7 672.0v3.6M582.3 672.0v3.6M585.9 675.6v3.6M589.4 679.2v3.6M593.0 675.6v3.6M596.6 672.0v3.6M600.2 668.5v14.3M603.7 682.7v14.3M607.3 682.7v7.1M610.9 668.5v14.3M614.4 657.8v10.7M618.0 661.3v7.1M621.6 664.9v7.1M625.1 657.8v7.1M628.7 650.6v7.1M632.3 657.8v7.1M635.8 661.3v3.6M639.4 664.9v7.1M643.0 661.3v10.7M646.6 654.2v7.1M650.1 650.6v3.6M653.7 647.1v3.6M657.3 643.5v3.6M660.8 643.5v3.6M664.4 639.9v3.6M668.0 643.5v7.1M671.5 643.5v14.3M675.1 632.8v10.7M678.7 632.8v3.6M682.2 632.8v7.1M685.8 625.6v7.1M689.4 625.6v7.1M692.9 632.8v7.1M696.5 636.3v7.1M700.1 643.5v7.1M703.7 636.3v7.1M707.2 636.3v3.6M710.8 636.3v3.6M714.4 629.2v7.1M717.9 629.2v3.6M721.5 625.6v3.6M725.1 622.1v3.6M728.6 618.5v3.6M732.2 614.9v3.6M735.8 618.5v17.8M739.3 636.3v21.4M742.9 632.8v10.7M746.5 636.3v7.1M750.1 639.9v3.6M753.6 625.6v14.3M757.2 618.5v7.1M760.8 622.1v3.6M764.3 618.5v10.7M767.9 607.8v10.7M771.5 600.7v14.3M775.0 614.9v17.8M778.6 632.8v7.1M782.2 639.9v7.1M785.7 639.9v7.1M789.3 632.8v7.1M792.9 632.8v7.1M796.4 639.9v3.6M800.0 632.8v7.1M803.6 625.6v7.1M807.2 632.8v3.6M810.7 625.6v7.1M814.3 618.5v7.1M817.9 625.6v7.1M821.4 632.8v10.7M825.0 643.5v3.6M828.6 636.3v14.3M832.1 618.5v17.8M835.7 625.6v3.6M839.3 629.2v14.3M842.8 643.5v17.8M846.4 639.9v10.7M850.0 647.1v7.1M853.6 653.7v10.4M857.1 646.5v10.4M860.7 653.7v6.4M864.3 646.5v10.4M867.8 657.0v10.4M871.4 667.4v7.2M875.0 660.2v14.4M878.5 657.0v10.4M882.1 653.7v10.4M885.7 664.2v17.6M889.2 674.6v18.4M892.8 646.5v28.1M896.4 628.1v18.4M900.0 628.1v24.9M903.5 652.9v14.4M907.1 667.4v11.2M910.7 678.6v14.4M914.2 685.8v14.4M917.8 682.6v17.6M921.4 700.3v21.7M924.9 718.7v10.4M928.5 697.1v21.7M932.1 697.1v7.2M935.6 704.3v10.4M939.2 714.7v7.2M942.8 714.7v10.4M946.3 708.3v6.4M949.9 710.7v11.2M953.5 704.3v7.2M957.1 704.3v3.2M960.6 704.3v3.2M964.2 707.5v11.2M967.8 714.7v10.4M971.3 722.0v7.1M974.9 729.1v3.6M978.5 725.6v3.6M982.0 718.4v7.1M985.6 725.6v7.1M989.2 732.7v7.1M992.7 732.7v14.3M996.3 714.9v17.8M999.9 729.1v14.3M1003.5 736.3v3.6M1007.0 739.8v3.6M1010.6 736.3v3.6M1014.2 739.8v3.6M1017.7 736.3v3.6M1021.3 729.1v7.1M1024.9 722.0v7.1M1028.4 714.9v7.1M1032.0 718.4v7.1M1035.6 718.4v7.1M1039.1 725.6v7.1M1042.7 732.7v3.6M1046.3 732.7v3.6M1049.8 729.1v3.6M1053.4 722.0v7.1M1057.0 725.6v7.1M1060.6 732.7v7.1M1064.1 736.3v3.6M1067.7 739.8v7.1M1071.3 743.4v3.6M1074.8 739.8v10.7M1078.4 750.6v10.7M1082.0 743.4v10.7M1085.5 732.7v10.7M1089.1 743.4v10.7M1092.7 729.1v14.3M1096.2 732.7v7.1M1099.8 739.8v7.1M1103.4 747.0v7.1M1107.0 750.6v7.1M1110.5 743.4v7.1M1114.1 732.7v10.7M1117.7 725.6v7.1M1121.2 718.4v14.3M1124.8 732.7v21.4M1128.4 754.1v10.7M1131.9 750.6v7.1M1135.5 750.6v7.1M1139.1 757.7v3.6M1142.6 754.1v3.6M1146.2 754.1v3.6M1149.8 747.0v7.1M1153.3 739.8v7.1M1156.9 736.3v3.6M1160.5 739.8v7.1M1164.1 747.0v7.1M1167.6 754.1v3.6M1171.2 757.7v3.6M1174.8 757.7v3.6M1178.3 757.7v3.6M1181.9 754.1v3.6M1185.5 750.6v3.6M1189.0 743.4v7.1M1192.6 736.3v7.1M1196.2 732.7v3.6M1199.7 729.1v3.6M1203.3 725.6v3.6M1206.9 725.6v17.8M1210.5 743.4v14.3M1214.0 747.0v7.1M1217.6 743.4v7.1M1221.2 750.6v10.7M1224.7 757.7v3.6M1228.3 754.1v3.6M1231.9 750.6v7.1M1235.4 757.7v3.6M1239.0 754.1v7.1M1242.6 747.0v7.1M1246.1 747.0v10.7M1249.7 754.1v14.3M1253.3 739.8v14.3M1256.9 729.1v17.8M1260.4 747.0v14.3M1264.0 757.7v3.6M1267.6 761.3v3.6M1271.1 761.3v3.6M1274.7 761.3v3.6M1278.3 761.3v7.1M1281.8 750.6v10.7M1285.4 747.0v7.1M1289.0 754.1v10.7M1292.5 764.8v7.1M1296.1 768.4v3.6M1299.7 764.8v7.1M1303.2 754.1v10.7M1306.8 743.4v10.7M1310.4 750.6v10.7M1314.0 761.3v10.7M1317.5 772.0v7.1M1321.1 764.8v7.1M1324.7 757.7v7.1M1328.2 754.1v3.6M1331.8 750.6v7.1M1335.4 743.4v7.1M1338.9 750.6v10.7M1342.5 761.3v7.1M1346.1 768.4v3.6M1349.6 764.8v3.6M1353.2 764.8v7.1M1356.8 761.3v3.6M1360.4 757.7v3.6M1363.9 754.1v3.6M1367.5 757.7v7.1M1371.1 764.8v3.6M1374.6 761.3v3.6M1378.2 754.1v7.1M1381.8 747.0v7.1M1385.3 750.6v7.1M1388.9 757.7v14.3M1392.5 772.0v14.3M1396.0 764.8v10.7M1399.6 757.7v7.1M1403.2 743.4v14.3M1406.7 736.3v7.1M1410.3 743.4v17.8M1413.9 761.3v10.7M1417.5 768.4v3.6M1421.0 768.4v3.6M1424.6 764.8v3.6M1428.2 764.8v3.6M1431.7 761.3v3.6M1435.3 754.1v7.1M1438.9 750.6v3.6M1442.4 747.0v7.1M1446.0 754.1v3.6M1449.6 757.7v3.6M1453.1 754.1v3.6M1456.7 739.8v14.3M1460.3 729.1v10.7M1463.9 732.7v7.1M1467.4 739.8v10.7M1471.0 750.6v14.3M1474.6 761.3v10.7M1478.1 747.0v14.3M1481.7 732.7v14.3M1485.3 725.6v10.7M1488.8 736.3v14.3M1492.4 743.4v3.6M1496.0 732.7v17.8M1499.5 718.4v14.3M1503.1 725.6v17.8M1506.7 739.8v17.8M1510.2 718.4v21.4M1513.8 732.7v14.3M1517.4 747.0v10.7M1521.0 739.8v10.7M1524.5 729.1v10.7M1528.1 725.6v3.6M1531.7 729.1v3.6M1535.2 732.7v7.1M1538.8 729.1v7.1M1542.4 725.6v3.6M1545.9 718.4v7.1M1549.5 718.4v7.1M1553.1 714.9v10.7M1556.6 725.6v17.8M1560.2 743.4v10.7M1563.8 736.3v10.7M1567.4 729.1v10.7M1570.9 739.8v10.7M1574.5 750.6v3.6M1578.1 750.6v3.6M1581.6 754.1v3.6M1585.2 747.0v7.1M1588.8 739.8v7.1M1592.3 743.4v7.1M1595.9 750.6v3.6"/>
<path d="M139.8 886.2v3.6M143.3 882.6v3.6M146.9 879.0v3.6M150.5 871.9v7.1M154.0 875.5v3.6M157.6 879.0v3.6M161.2 875.5v7.1M164.7 868.3v7.1M168.3 868.3v3.6M171.9 868.3v3.6M175.4 871.9v7.1M179.0 875.5v7.1M182.6 868.3v7.1M186.2 864.8v3.6M189.7 868.3v3.6M193.3 868.3v3.6M196.9 868.3v3.6M200.4 864.8v3.6M204.0 861.2v3.6M207.6 861.2v3.6M211.1 861.2v3.6M214.7 864.8v3.6M218.3 864.8v3.6M221.8 861.2v3.6M225.4 854.1v7.1M229.0 854.1v3.6M232.5 850.5v3.6M236.1 850.5v7.1M239.7 857.6v7.1M243.3 854.1v7.1M246.8 854.1v7.1M250.4 850.5v3.6M254.0 846.9v10.7M257.5 857.6v7.1M261.1 846.9v10.7M264.7 839.8v7.1M268.2 846.9v10.7M271.8 857.6v10.7M275.4 850.5v10.7M278.9 846.9v3.6M282.5 850.5v7.1M286.1 857.6v3.6M289.7 850.5v7.1M293.2 850.5v3.6M296.8 843.3v7.1M300.4 839.8v3.6M303.9 839.8v3.6M307.5 839.8v7.1M311.1 846.9v10.7M314.6 857.6v7.1M318.2 857.6v3.6M321.8 854.1v3.6M325.3 846.9v7.1M328.9 839.8v7.1M332.5 832.6v14.3M336.0 846.9v14.3M339.6 843.3v10.7M343.2 832.6v10.7M346.8 829.1v7.1M350.3 836.2v14.3M353.9 850.5v7.1M357.5 850.5v3.6M361.0 843.3v7.1M364.6 846.9v7.1M368.2 850.5v3.6M371.7 843.3v7.1M375.3 839.8v3.6M378.9 832.6v7.1M382.4 839.8v7.1M386.0 846.9v3.6M389.6 843.3v3.6M393.2 839.8v3.6M396.7 836.2v3.6M400.3 829.1v7.1M403.9 825.5v7.1M407.4 832.6v7.1M411.0 839.8v10.7M414.6 850.5v10.7M418.1 850.5v14.3M421.7 836.2v14.3M425.3 832.6v3.6M428.8 836.2v3.6M432.4 836.2v3.6M436.0 836.2v7.1M439.5 843.3v7.1M443.1 850.5v7.1M446.7 846.9v10.7M450.3 836.2v10.7M453.8 832.6v3.6M457.4 836.2v3.6M461.0 829.1v7.1M464.5 829.1v3.6M468.1 832.6v7.1M471.7 836.2v3.6M475.2 839.8v3.6M478.8 836.2v3.6M482.4 825.5v14.3M485.9 811.2v14.3M489.5 818.4v17.8M493.1 832.6v14.3M496.7 818.4v14.3M500.2 807.7v10.7M503.8 804.1v7.1M507.4 811.2v10.7M510.9 821.9v10.7M514.5 832.6v10.7M518.1 821.9v10.7M521.6 821.9v10.7M525.2 832.6v10.7M528.8 836.2v7.1M532.3 843.3v3.6M535.9 843.3v3.6M539.5 832.6v10.7M543.1 829.1v3.6M546.6 818.4v10.7M550.2 800.5v17.8M553.8 793.4v17.8M557.3 811.2v14.3M560.9 814.8v7.1M564.5 807.7v7.1M568.0 811.2v7.1M571.6 818.4v7.1M575.2 807.7v10.7M578.7 804.1v3.6M582.3 797.0v7.1M585.9 793.4v10.7M589.4 804.1v10.7M593.0 814.8v3.6M596.6 818.4v3.6M600.2 814.8v7.1M603.7 807.7v7.1M607.3 807.7v3.6M610.9 804.1v3.6M614.4 797.0v7.1M618.0 793.4v3.6M621.6 797.0v7.1M625.1 804.1v3.6M628.7 800.5v7.1M632.3 789.8v10.7M635.8 779.1v10.7M639.4 772.0v7.1M643.0 768.4v10.7M646.6 779.1v7.1M650.1 782.7v7.1M653.7 786.2v7.1M657.3 775.5v10.7M660.8 768.4v7.1M664.4 761.3v10.7M668.0 768.4v10.7M671.5 754.1v14.3M675.1 761.3v3.6M678.7 761.3v3.6M682.2 754.1v10.7M685.8 739.8v21.4M689.4 761.3v17.8M692.9 739.8v25.0M696.5 729.1v14.3M700.1 743.4v14.3M703.7 750.6v3.6M707.2 747.0v3.6M710.8 743.4v10.7M714.4 732.7v10.7M717.9 739.8v14.3M721.5 739.8v21.4M725.1 714.9v25.0M728.6 714.9v3.6M732.2 711.3v7.1M735.8 707.7v14.3M739.3 722.0v14.3M742.9 707.7v21.4M746.5 693.4v17.8M750.1 711.3v21.4M753.6 700.6v14.3M757.2 714.9v21.4M760.8 736.3v14.3M764.3 722.0v21.4M767.9 700.6v21.4M771.5 697.0v3.6M775.0 700.6v7.1M778.6 707.7v7.1M782.2 700.6v7.1M785.7 700.6v3.6M789.3 697.0v3.6M792.9 693.4v7.1M796.4 700.6v7.1M800.0 707.7v3.6M803.6 711.3v7.1M807.2 714.9v7.1M810.7 704.2v10.7M814.3 704.2v3.6M817.9 700.6v10.7M821.4 711.3v10.7M825.0 714.9v10.7M828.6 700.6v17.8M832.1 718.4v17.8M835.7 725.6v7.1M839.3 722.0v3.6M842.8 725.6v3.6M846.4 725.6v3.6M850.0 725.6v3.6M853.6 725.9v7.2M857.1 733.2v14.4M860.7 747.6v7.2M864.3 737.2v10.4M867.8 729.9v10.4M871.4 740.4v14.4M875.0 744.4v20.9M878.5 744.4v10.4M882.1 744.4v3.2M885.7 747.6v11.2M889.2 758.8v6.4M892.8 754.8v4.0M896.4 747.6v7.2M900.0 718.7v43.3M903.5 725.9v7.2M907.1 733.2v18.4M910.7 751.6v24.9M914.2 776.5v22.5M917.8 798.9v13.6M921.4 798.9v10.4M924.9 809.4v10.4M928.5 816.6v7.2M932.1 812.6v11.2M935.6 806.1v6.4M939.2 809.4v7.2M942.8 816.6v3.2M946.3 819.8v4.0M949.9 819.8v7.2M953.5 816.6v4.0M957.1 820.6v6.4M960.6 823.8v3.2M964.2 820.6v3.2M967.8 820.6v3.2M971.3 823.8v5.3M974.9 825.5v10.7M978.5 814.8v10.7M982.0 821.9v7.1M985.6 829.1v7.1M989.2 832.6v3.6M992.7 836.2v3.6M996.3 839.8v7.1M999.9 843.3v3.6M1003.5 846.9v7.1M1007.0 839.8v7.1M1010.6 836.2v3.6M1014.2 832.6v3.6M1017.7 836.2v14.3M1021.3 850.5v7.1M1024.9 839.8v10.7M1028.4 832.6v10.7M1032.0 843.3v14.3M1035.6 854.1v7.1M1039.1 843.3v10.7M1042.7 836.2v7.1M1046.3 839.8v14.3M1049.8 854.1v10.7M1053.4 861.2v7.1M1057.0 868.3v3.6M1060.6 864.8v7.1M1064.1 857.6v7.1M1067.7 854.1v3.6M1071.3 857.6v3.6M1074.8 861.2v7.1M1078.4 854.1v17.8M1082.0 839.8v14.3M1085.5 843.3v7.1M1089.1 850.5v7.1M1092.7 850.5v7.1M1096.2 843.3v7.1M1099.8 846.9v3.6M1103.4 850.5v7.1M1107.0 854.1v3.6M1110.5 850.5v3.6M1114.1 846.9v3.6M1117.7 846.9v3.6M1121.2 843.3v3.6M1124.8 836.2v7.1M1128.4 839.8v10.7M1131.9 850.5v10.7M1135.5 857.6v3.6M1139.1 861.2v3.6M1142.6 861.2v3.6M1146.2 861.2v3.6M1149.8 861.2v3.6M1153.3 861.2v10.7M1156.9 868.3v10.7M1160.5 857.6v10.7M1164.1 861.2v7.1M1167.6 868.3v7.1M1171.2 861.2v7.1M1174.8 854.1v7.1M1178.3 850.5v7.1M1181.9 857.6v14.3M1185.5 871.9v10.7M1189.0 879.0v7.1M1192.6 868.3v10.7M1196.2 864.8v3.6M1199.7 868.3v3.6M1203.3 864.8v10.7M1206.9 850.5v14.3M1210.5 846.9v10.7M1214.0 857.6v7.1M1217.6 854.1v7.1M1221.2 850.5v7.1M1224.7 857.6v14.3M1228.3 871.9v7.1M1231.9 868.3v7.1M1235.4 868.3v3.6M1239.0 871.9v3.6M1242.6 868.3v3.6M1246.1 864.8v3.6M1249.7 864.8v3.6M1253.3 861.2v3.6M1256.9 857.6v3.6M1260.4 861.2v7.1M1264.0 868.3v3.6M1267.6 871.9v3.6M1271.1 871.9v3.6M1274.7 871.9v14.3M1278.3 886.2v17.8M1281.8 879.0v14.3M1285.4 868.3v10.7M1289.0 871.9v3.6M1292.5 868.3v10.7M1296.1 879.0v17.8M1299.7 889.7v17.8M1303.2 871.9v17.8M1306.8 875.5v3.6M1310.4 871.9v7.1M1314.0 879.0v3.6M1317.5 879.0v3.6M1321.1 875.5v3.6M1324.7 879.0v3.6M1328.2 875.5v3.6M1331.8 875.5v10.7M1335.4 886.2v10.7M1338.9 886.2v3.6M1342.5 889.7v7.1M1346.1 889.7v3.6M1349.6 882.6v7.1M1353.2 879.0v7.1M1356.8 886.2v7.1M1360.4 889.7v3.6M1363.9 886.2v3.6M1367.5 879.0v10.7M1371.1 864.8v14.3M1374.6 854.1v10.7M1378.2 850.5v14.3M1381.8 864.8v17.8M1385.3 868.3v7.1M1388.9 864.8v3.6M1392.5 864.8v7.1M1396.0 871.9v3.6M1399.6 875.5v3.6M1403.2 871.9v3.6M1406.7 868.3v3.6M1410.3 871.9v7.1M1413.9 879.0v3.6M1417.5 879.0v3.6M1421.0 879.0v3.6M1424.6 875.5v7.1M1428.2 871.9v14.3M1431.7 886.2v10.7M1435.3 889.7v3.6M1438.9 882.6v7.1M1442.4 875.5v10.7M1446.0 886.2v10.7M1449.6 886.2v7.1M1453.1 882.6v3.6M1456.7 879.0v3.6M1460.3 871.9v7.1M1463.9 864.8v7.1M1467.4 864.8v10.7M1471.0 871.9v14.3M1474.6 861.2v10.7M1478.1 861.2v7.1M1481.7 868.3v7.1M1485.3 875.5v7.1M1488.8 864.8v21.4M1492.4 843.3v21.4M1496.0 843.3v3.6M1499.5 846.9v14.3M1503.1 861.2v10.7M1506.7 846.9v17.8M1510.2 836.2v10.7M1513.8 839.8v14.3M1517.4 854.1v10.7M1521.0 850.5v7.1M1524.5 843.3v7.1M1528.1 850.5v7.1M1531.7 857.6v7.1M1535.2 846.9v10.7M1538.8 839.8v7.1M1542.4 843.3v3.6M1545.9 843.3v10.7M1549.5 836.2v7.1M1553.1 832.6v3.6M1556.6 836.2v3.6M1560.2 839.8v3.6M1563.8 843.3v10.7M1567.4 854.1v10.7M1570.9 864.8v10.7M1574.5 854.1v10.7M1578.1 857.6v7.1M1581.6 861.2v7.1M1585.2 868.3v3.6M1588.8 864.8v3.6M1592.3 864.8v7.1M1595.9 871.9v7.1"/>
<path d="M139.8 975.4v3.6M143.3 975.4v7.1M146.9 982.5v3.6M150.5 975.4v7.1M154.0 975.4v3.6M157.6 971.8v7.1M161.2 979.0v3.6M164.7 975.4v3.6M168.3 979.0v3.6M171.9 982.5v7.1M175.4 986.1v10.7M179.0 975.4v10.7M182.6 971.8v3.6M186.2 975.4v3.6M189.7 979.0v3.6M193.3 982.5v3.6M196.9 975.4v7.1M200.4 971.8v3.6M204.0 975.4v10.7M207.6 982.5v7.1M211.1 975.4v7.1M214.7 968.3v7.1M218.3 961.1v7.1M221.8 961.1v3.6M225.4 964.7v7.1M229.0 964.7v3.6M232.5 968.3v3.6M236.1 964.7v7.1M239.7 971.8v3.6M243.3 968.3v3.6M246.8 971.8v3.6M250.4 968.3v10.7M254.0 957.6v10.7M257.5 957.6v3.6M261.1 957.6v3.6M264.7 961.1v7.1M268.2 968.3v3.6M271.8 964.7v7.1M275.4 971.8v3.6M278.9 968.3v3.6M282.5 964.7v3.6M286.1 957.6v7.1M289.7 964.7v7.1M293.2 964.7v7.1M296.8 957.6v7.1M300.4 961.1v14.3M303.9 975.4v7.1M307.5 975.4v3.6M311.1 968.3v7.1M314.6 957.6v10.7M318.2 946.8v10.7M321.8 954.0v7.1M325.3 961.1v3.6M328.9 964.7v3.6M332.5 968.3v7.1M336.0 968.3v3.6M339.6 968.3v3.6M343.2 968.3v3.6M346.8 971.8v3.6M350.3 975.4v3.6M353.9 971.8v3.6M357.5 971.8v3.6M361.0 968.3v3.6M364.6 968.3v3.6M368.2 968.3v3.6M371.7 968.3v3.6M375.3 964.7v3.6M378.9 968.3v3.6M382.4 971.8v3.6M386.0 968.3v10.7M389.6 957.6v10.7M393.2 946.8v10.7M396.7 954.0v10.7M400.3 957.6v10.7M403.9 946.8v10.7M407.4 954.0v7.1M411.0 961.1v3.6M414.6 954.0v7.1M418.1 950.4v10.7M421.7 961.1v10.7M425.3 971.8v7.1M428.8 971.8v3.6M432.4 968.3v3.6M436.0 971.8v7.1M439.5 975.4v3.6M443.1 971.8v3.6M446.7 968.3v3.6M450.3 971.8v3.6M453.8 971.8v3.6M457.4 975.4v3.6M461.0 971.8v3.6M464.5 971.8v3.6M468.1 968.3v3.6M471.7 964.7v3.6M475.2 957.6v7.1M478.8 957.6v3.6M482.4 957.6v3.6M485.9 961.1v3.6M489.5 964.7v3.6M493.1 968.3v3.6M496.7 971.8v3.6M500.2 968.3v3.6M503.8 968.3v3.6M507.4 968.3v7.1M510.9 975.4v7.1M514.5 971.8v7.1M518.1 964.7v7.1M521.6 961.1v3.6M525.2 964.7v10.7M528.8 971.8v7.1M532.3 957.6v14.3M535.9 950.4v7.1M539.5 954.0v3.6M543.1 954.0v7.1M546.6 961.1v7.1M550.2 957.6v7.1M553.8 954.0v3.6M557.3 954.0v3.6M560.9 954.0v7.1M564.5 950.4v3.6M568.0 954.0v14.3M571.6 968.3v10.7M575.2 961.1v10.7M578.7 954.0v7.1M582.3 954.0v3.6M585.9 957.6v3.6M589.4 957.6v3.6M593.0 961.1v3.6M596.6 961.1v3.6M600.2 954.0v7.1M603.7 950.4v3.6M607.3 946.8v7.1M610.9 943.3v3.6M614.4 939.7v3.6M618.0 943.3v3.6M621.6 946.8v3.6M625.1 946.8v3.6M628.7 950.4v3.6M632.3 946.8v3.6M635.8 943.3v7.1M639.4 946.8v7.1M643.0 939.7v7.1M646.6 932.6v7.1M650.1 932.6v7.1M653.7 939.7v3.6M657.3 936.1v3.6M660.8 932.6v3.6M664.4 929.0v7.1M668.0 936.1v10.7M671.5 943.3v10.7M675.1 932.6v10.7M678.7 932.6v3.6M682.2 929.0v3.6M685.8 932.6v3.6M689.4 929.0v3.6M692.9 925.4v3.6M696.5 929.0v7.1M700.1 914.7v14.3M703.7 907.6v7.1M707.2 914.7v10.7M710.8 925.4v3.6M714.4 918.3v10.7M717.9 911.2v7.1M721.5 911.2v3.6M725.1 914.7v7.1M728.6 918.3v3.6M732.2 914.7v7.1M735.8 907.6v7.1M739.3 904.0v3.6M742.9 900.5v7.1M746.5 907.6v10.7M750.1 918.3v7.1M753.6 900.5v17.8M757.2 889.7v10.7M760.8 900.5v17.8M764.3 918.3v10.7M767.9 925.4v3.6M771.5 921.9v3.6M775.0 921.9v7.1M778.6 914.7v7.1M782.2 907.6v7.1M785.7 904.0v3.6M789.3 900.5v14.3M792.9 914.7v14.3M796.4 907.6v14.3M800.0 900.5v7.1M803.6 900.5v3.6M807.2 904.0v3.6M810.7 907.6v3.6M814.3 900.5v7.1M817.9 907.6v7.1M821.4 914.7v10.7M825.0 900.5v14.3M828.6 900.5v3.6M832.1 896.9v17.8M835.7 914.7v17.8M839.3 925.4v3.6M842.8 925.4v7.1M846.4 932.6v3.6M850.0 936.1v3.6M853.6 936.1v3.6M857.1 932.6v10.7M860.7 943.3v10.7M864.3 950.4v3.6M867.8 950.4v3.6M871.4 950.4v3.6M875.0 946.8v3.6M878.5 950.4v3.6M882.1 950.4v3.6M885.7 954.0v7.1M889.2 957.6v3.6M892.8 950.4v7.1M896.4 943.3v7.1M900.0 932.6v10.7M903.5 936.1v7.1M907.1 936.1v10.7M910.7 946.8v7.1M914.2 954.0v3.6M917.8 954.0v10.7M921.4 964.7v14.3M924.9 979.0v10.7M928.5 989.7v14.3M932.1 996.8v10.7M935.6 986.1v10.7M939.2 986.1v3.6M942.8 989.7v7.1M946.3 996.8v3.6M949.9 996.8v3.6M953.5 1000.4v7.1M957.1 993.2v7.1M960.6 989.7v3.6M964.2 993.2v7.1M967.8 996.8v3.6M971.3 1000.4v3.6M974.9 1004.0v3.6M978.5 1004.0v3.6M982.0 1000.4v3.6M985.6 993.2v7.1M989.2 1000.4v7.1M992.7 1007.5v3.6M996.3 1004.0v3.6M999.9 1000.4v3.6M1003.5 1000.4v3.6M1007.0 996.8v3.6M1010.6 1000.4v3.6M1014.2 1004.0v3.6M1017.7 1000.4v3.6M1021.3 1004.0v10.7M1024.9 1014.7v7.1M1028.4 1018.2v10.7M1032.0 1007.5v10.7M1035.6 1014.7v3.6M1039.1 1014.7v3.6M1042.7 1018.2v3.6M1046.3 1021.8v3.6M1049.8 1021.8v7.1M1053.4 1028.9v3.6M1057.0 1021.8v7.1M1060.6 1018.2v14.3M1064.1 1032.5v14.3M1067.7 1021.8v10.7M1071.3 1014.7v7.1M1074.8 1021.8v7.1M1078.4 1025.4v3.6M1082.0 1028.9v3.6M1085.5 1025.4v7.1M1089.1 1018.2v7.1M1092.7 1014.7v3.6M1096.2 1014.7v3.6M1099.8 1014.7v3.6M1103.4 1011.1v3.6M1107.0 1014.7v3.6M1110.5 1018.2v3.6M1114.1 1021.8v7.1M1117.7 1025.4v3.6M1121.2 1028.9v7.1M1124.8 1025.4v7.1M1128.4 1018.2v7.1M1131.9 1025.4v3.6M1135.5 1025.4v7.1M1139.1 1028.9v10.7M1142.6 1021.8v7.1M1146.2 1025.4v7.1M1149.8 1032.5v7.1M1153.3 1036.1v3.6M1156.9 1028.9v7.1M1160.5 1025.4v3.6M1164.1 1028.9v10.7M1167.6 1039.6v7.1M1171.2 1032.5v10.7M1174.8 1025.4v7.1M1178.3 1018.2v7.1M1181.9 1021.8v10.7M1185.5 1032.5v7.1M1189.0 1021.8v10.7M1192.6 1025.4v3.6M1196.2 1021.8v3.6M1199.7 1025.4v3.6M1203.3 1025.4v3.6M1206.9 1018.2v7.1M1210.5 1014.7v7.1M1214.0 1021.8v7.1M1217.6 1028.9v7.1M1221.2 1036.1v3.6M1224.7 1036.1v3.6M1228.3 1032.5v7.1M1231.9 1036.1v10.7M1235.4 1021.8v14.3M1239.0 1014.7v7.1M1242.6 1021.8v3.6M1246.1 1025.4v7.1M1249.7 1028.9v3.6M1253.3 1025.4v3.6M1256.9 1025.4v3.6M1260.4 1028.9v7.1M1264.0 1032.5v3.6M1267.6 1036.1v3.6M1271.1 1036.1v3.6M1274.7 1039.6v3.6M1278.3 1032.5v7.1M1281.8 1025.4v7.1M1285.4 1021.8v3.6M1289.0 1018.2v14.3M1292.5 1032.5v14.3M1296.1 1036.1v3.6M1299.7 1032.5v7.1M1303.2 1028.9v3.6M1306.8 1025.4v3.6M1310.4 1025.4v10.7M1314.0 1036.1v10.7M1317.5 1039.6v3.6M1321.1 1036.1v3.6M1324.7 1039.6v7.1M1328.2 1043.2v3.6M1331.8 1032.5v10.7M1335.4 1025.4v7.1M1338.9 1032.5v7.1M1342.5 1039.6v3.6M1346.1 1039.6v3.6M1349.6 1036.1v3.6M1353.2 1039.6v3.6M1356.8 1039.6v3.6M1360.4 1043.2v3.6M1363.9 1036.1v7.1M1367.5 1032.5v3.6M1371.1 1028.9v3.6M1374.6 1028.9v7.1M1378.2 1036.1v7.1M1381.8 1043.2v3.6M1385.3 1036.1v7.1M1388.9 1036.1v3.6M1392.5 1039.6v3.6M1396.0 1039.6v7.1M1399.6 1032.5v7.1M1403.2 1032.5v3.6M1406.7 1028.9v3.6M1410.3 1032.5v3.6M1413.9 1032.5v7.1M1417.5 1025.4v7.1M1421.0 1032.5v7.1M1424.6 1025.4v10.7M1428.2 1021.8v3.6M1431.7 1025.4v3.6M1435.3 1021.8v3.6M1438.9 1025.4v3.6M1442.4 1025.4v7.1M1446.0 1021.8v3.6M1449.6 1018.2v14.3M1453.1 1032.5v14.3M1456.7 1032.5v7.1M1460.3 1025.4v7.1M1463.9 1021.8v3.6M1467.4 1025.4v3.6M1471.0 1025.4v3.6M1474.6 1028.9v3.6M1478.1 1025.4v3.6M1481.7 1018.2v7.1M1485.3 1025.4v7.1M1488.8 1028.9v7.1M1492.4 1025.4v3.6M1496.0 1021.8v3.6M1499.5 1025.4v3.6M1503.1 1021.8v3.6M1506.7 1014.7v7.1M1510.2 1018.2v3.6M1513.8 1018.2v3.6M1517.4 1021.8v3.6M1521.0 1018.2v3.6M1524.5 1011.1v7.1M1528.1 1007.5v3.6M1531.7 1004.0v3.6M1535.2 1007.5v3.6M1538.8 1011.1v7.1M1542.4 1018.2v3.6M1545.9 1014.7v3.6M1549.5 1014.7v3.6M1553.1 1011.1v3.6M1556.6 1014.7v3.6M1560.2 1018.2v7.1M1563.8 1025.4v3.6M1567.4 1018.2v7.1M1570.9 1014.7v3.6M1574.5 1014.7v3.6M1578.1 1018.2v7.1M1581.6 1025.4v3.6M1585.2 1028.9v3.6M1588.8 1032.5v7.1M1592.3 1028.9v3.6M1595.9 1025.4v3.6"/>
<path d="M139.8 1118.2v7.1M143.3 1111.0v7.1M146.9 1118.2v3.6M150.5 1121.7v3.6M154.0 1121.7v3.6M157.6 1121.7v3.6M161.2 1118.2v3.6M164.7 1111.0v7.1M168.3 1111.0v3.6M171.9 1111.0v3.6M175.4 1111.0v3.6M179.0 1111.0v3.6M182.6 1114.6v3.6M186.2 1114.6v3.6M189.7 1111.0v3.6M193.3 1107.5v3.6M196.9 1111.0v3.6M200.4 1111.0v7.1M204.0 1118.2v3.6M207.6 1111.0v7.1M211.1 1103.9v7.1M214.7 1096.7v7.1M218.3 1093.2v7.1M221.8 1100.3v10.7M225.4 1111.0v7.1M229.0 1100.3v10.7M232.5 1093.2v7.1M236.1 1100.3v10.7M239.7 1111.0v7.1M243.3 1107.5v3.6M246.8 1103.9v7.1M250.4 1100.3v3.6M254.0 1093.2v7.1M257.5 1089.6v3.6M261.1 1089.6v7.1M264.7 1096.7v7.1M268.2 1103.9v3.6M271.8 1100.3v3.6M275.4 1096.7v3.6M278.9 1100.3v3.6M282.5 1103.9v3.6M286.1 1103.9v3.6M289.7 1096.7v7.1M293.2 1093.2v7.1M296.8 1100.3v3.6M300.4 1103.9v3.6M303.9 1107.5v3.6M307.5 1100.3v7.1M311.1 1103.9v3.6M314.6 1096.7v7.1M318.2 1089.6v7.1M321.8 1089.6v7.1M325.3 1086.0v3.6M328.9 1086.0v3.6M332.5 1089.6v7.1M336.0 1096.7v3.6M339.6 1096.7v3.6M343.2 1100.3v3.6M346.8 1096.7v3.6M350.3 1096.7v7.1M353.9 1093.2v3.6M357.5 1093.2v3.6M361.0 1093.2v7.1M364.6 1100.3v3.6M368.2 1103.9v3.6M371.7 1100.3v3.6M375.3 1093.2v7.1M378.9 1096.7v3.6M382.4 1093.2v3.6M386.0 1096.7v3.6M389.6 1096.7v3.6M393.2 1100.3v3.6M396.7 1100.3v7.1M400.3 1089.6v10.7M403.9 1093.2v3.6M407.4 1096.7v7.1M411.0 1103.9v3.6M414.6 1107.5v3.6M418.1 1093.2v14.3M421.7 1082.5v10.7M425.3 1082.5v3.6M428.8 1078.9v3.6M432.4 1082.5v10.7M436.0 1093.2v7.1M439.5 1086.0v7.1M443.1 1086.0v3.6M446.7 1089.6v3.6M450.3 1093.2v3.6M453.8 1093.2v7.1M457.4 1100.3v3.6M461.0 1096.7v3.6M464.5 1089.6v7.1M468.1 1082.5v7.1M471.7 1086.0v7.1M475.2 1093.2v7.1M478.8 1086.0v7.1M482.4 1089.6v7.1M485.9 1096.7v3.6M489.5 1100.3v7.1M493.1 1096.7v3.6M496.7 1093.2v3.6M500.2 1093.2v3.6M503.8 1086.0v7.1M507.4 1086.0v3.6M510.9 1089.6v7.1M514.5 1082.5v7.1M518.1 1078.9v7.1M521.6 1075.3v10.7M525.2 1086.0v10.7M528.8 1086.0v7.1M532.3 1078.9v7.1M535.9 1086.0v10.7M539.5 1086.0v3.6M543.1 1082.5v3.6M546.6 1082.5v3.6M550.2 1086.0v3.6M553.8 1086.0v7.1M557.3 1082.5v3.6M560.9 1078.9v3.6M564.5 1082.5v3.6M568.0 1086.0v7.1M571.6 1082.5v3.6M575.2 1075.3v7.1M578.7 1078.9v3.6M582.3 1082.5v7.1M585.9 1082.5v3.6M589.4 1078.9v3.6M593.0 1075.3v3.6M596.6 1075.3v3.6M600.2 1071.8v3.6M603.7 1071.8v3.6M607.3 1071.8v3.6M610.9 1075.3v3.6M614.4 1071.8v3.6M618.0 1071.8v3.6M621.6 1071.8v3.6M625.1 1068.2v3.6M628.7 1061.1v7.1M632.3 1068.2v3.6M635.8 1068.2v7.1M639.4 1061.1v7.1M643.0 1061.1v3.6M646.6 1057.5v3.6M650.1 1061.1v3.6M653.7 1064.6v3.6M657.3 1061.1v3.6M660.8 1057.5v3.6M664.4 1053.9v3.6M668.0 1053.9v3.6M671.5 1057.5v3.6M675.1 1057.5v7.1M678.7 1050.3v7.1M682.2 1043.2v7.1M685.8 1050.3v7.1M689.4 1050.3v7.1M692.9 1043.2v7.1M696.5 1039.6v3.6M700.1 1039.6v7.1M703.7 1046.8v7.1M707.2 1046.8v3.6M710.8 1039.6v7.1M714.4 1039.6v3.6M717.9 1036.1v3.6M721.5 1032.5v3.6M725.1 1032.5v3.6M728.6 1036.1v3.6M732.2 1039.6v7.1M735.8 1043.2v10.7M739.3 1036.1v10.7M742.9 1046.8v10.7M746.5 1039.6v10.7M750.1 1032.5v7.1M753.6 1039.6v10.7M757.2 1050.3v7.1M760.8 1050.3v3.6M764.3 1046.8v3.6M767.9 1043.2v3.6M771.5 1046.8v3.6M775.0 1050.3v3.6M778.6 1043.2v7.1M782.2 1039.6v7.1M785.7 1046.8v10.7M789.3 1057.5v7.1M792.9 1053.9v3.6M796.4 1050.3v3.6M800.0 1050.3v3.6M803.6 1046.8v10.7M807.2 1057.5v14.3M810.7 1068.2v3.6M814.3 1068.2v7.1M817.9 1061.1v7.1M821.4 1061.1v3.6M825.0 1057.5v3.6M828.6 1061.1v3.6M832.1 1053.9v10.7M835.7 1064.6v7.1M839.3 1068.2v10.7M842.8 1057.5v10.7M846.4 1061.1v7.1M850.0 1068.2v7.1M853.6 1071.8v3.6M857.1 1068.2v3.6M860.7 1071.8v7.1M864.3 1078.9v7.1M867.8 1075.3v7.1M871.4 1071.8v7.1M875.0 1078.9v3.6M878.5 1082.5v3.6M882.1 1075.3v7.1M885.7 1075.3v7.1M889.2 1082.5v7.1M892.8 1078.9v7.1M896.4 1075.3v3.6M900.0 1071.8v3.6M903.5 1075.3v3.6M907.1 1071.8v3.6M910.7 1071.8v3.6M914.2 1075.3v3.6M917.8 1078.9v3.6M921.4 1082.5v3.6M924.9 1086.0v3.6M928.5 1089.6v3.6M932.1 1093.2v10.7M935.6 1103.9v7.1M939.2 1100.3v7.1M942.8 1093.2v7.1M946.3 1096.7v7.1M949.9 1093.2v14.3M953.5 1082.5v10.7M957.1 1082.5v7.1M960.6 1089.6v7.1M964.2 1096.7v7.1M967.8 1103.9v3.6M971.3 1096.7v7.1M974.9 1096.7v3.6M978.5 1096.7v3.6M982.0 1100.3v3.6M985.6 1100.3v7.1M989.2 1107.5v3.6M992.7 1111.0v3.6M996.3 1103.9v7.1M999.9 1107.5v7.1M1003.5 1114.6v7.1M1007.0 1114.6v3.6M1010.6 1111.0v3.6M1014.2 1111.0v3.6M1017.7 1114.6v7.1M1021.3 1114.6v3.6M1024.9 1107.5v7.1M1028.4 1103.9v7.1M1032.0 1111.0v7.1M1035.6 1118.2v7.1M1039.1 1118.2v3.6M1042.7 1114.6v3.6M1046.3 1118.2v3.6M1049.8 1118.2v3.6M1053.4 1121.7v3.6M1057.0 1125.3v3.6M1060.6 1128.9v3.6M1064.1 1125.3v3.6M1067.7 1118.2v10.7M1071.3 1128.9v7.1M1074.8 1132.4v3.6M1078.4 1128.9v3.6M1082.0 1128.9v3.6M1085.5 1128.9v3.6M1089.1 1121.7v7.1M1092.7 1121.7v3.6M1096.2 1121.7v3.6M1099.8 1121.7v3.6M1103.4 1125.3v3.6M1107.0 1125.3v3.6M1110.5 1128.9v3.6M1114.1 1132.4v3.6M1117.7 1132.4v7.1M1121.2 1128.9v3.6M1124.8 1132.4v3.6M1128.4 1128.9v3.6M1131.9 1128.9v3.6M1135.5 1128.9v3.6M1139.1 1132.4v3.6M1142.6 1136.0v7.1M1146.2 1139.6v3.6M1149.8 1143.1v3.6M1153.3 1143.1v3.6M1156.9 1139.6v3.6M1160.5 1143.1v3.6M1164.1 1136.0v7.1M1167.6 1128.9v7.1M1171.2 1132.4v3.6M1174.8 1128.9v3.6M1178.3 1132.4v7.1M1181.9 1139.6v3.6M1185.5 1139.6v3.6M1189.0 1136.0v3.6M1192.6 1132.4v3.6M1196.2 1132.4v3.6M1199.7 1136.0v3.6M1203.3 1132.4v3.6M1206.9 1125.3v7.1M1210.5 1125.3v3.6M1214.0 1125.3v3.6M1217.6 1125.3v3.6M1221.2 1128.9v3.6M1224.7 1125.3v3.6M1228.3 1125.3v10.7M1231.9 1136.0v7.1M1235.4 1143.1v3.6M1239.0 1136.0v7.1M1242.6 1136.0v3.6M1246.1 1132.4v3.6M1249.7 1132.4v3.6M1253.3 1132.4v3.6M1256.9 1136.0v3.6M1260.4 1136.0v3.6M1264.0 1139.6v3.6M1267.6 1136.0v7.1M1271.1 1132.4v3.6M1274.7 1128.9v7.1M1278.3 1136.0v7.1M1281.8 1143.1v3.6M1285.4 1146.7v3.6M1289.0 1150.3v3.6M1292.5 1143.1v7.1M1296.1 1139.6v3.6M1299.7 1139.6v3.6M1303.2 1139.6v3.6M1306.8 1143.1v10.7M1310.4 1146.7v10.7M1314.0 1136.0v10.7M1317.5 1143.1v3.6M1321.1 1146.7v7.1M1324.7 1150.3v7.1M1328.2 1143.1v7.1M1331.8 1139.6v3.6M1335.4 1143.1v3.6M1338.9 1143.1v3.6M1342.5 1146.7v7.1M1346.1 1150.3v3.6M1349.6 1150.3v3.6M1353.2 1146.7v3.6M1356.8 1146.7v3.6M1360.4 1146.7v3.6M1363.9 1146.7v3.6M1367.5 1150.3v3.6M1371.1 1146.7v3.6M1374.6 1146.7v3.6M1378.2 1146.7v3.6M1381.8 1146.7v3.6M1385.3 1139.6v7.1M1388.9 1146.7v7.1M1392.5 1143.1v3.6M1396.0 1136.0v10.7M1399.6 1146.7v7.1M1403.2 1139.6v7.1M1406.7 1136.0v3.6M1410.3 1128.9v7.1M1413.9 1132.4v7.1M1417.5 1139.6v3.6M1421.0 1139.6v3.6M1424.6 1136.0v3.6M1428.2 1136.0v3.6M1431.7 1132.4v7.1M1435.3 1139.6v3.6M1438.9 1143.1v3.6M1442.4 1136.0v10.7M1446.0 1146.7v10.7M1449.6 1150.3v3.6M1453.1 1146.7v3.6M1456.7 1143.1v3.6M1460.3 1143.1v3.6M1463.9 1139.6v3.6M1467.4 1139.6v3.6M1471.0 1143.1v7.1M1474.6 1146.7v7.1M1478.1 1143.1v3.6M1481.7 1139.6v7.1M1485.3 1146.7v3.6M1488.8 1150.3v3.6M1492.4 1146.7v3.6M1496.0 1146.7v3.6M1499.5 1143.1v3.6M1503.1 1139.6v3.6M1506.7 1132.4v14.3M1510.2 1146.7v10.7M1513.8 1150.3v7.1M1517.4 1143.1v7.1M1521.0 1139.6v3.6M1524.5 1136.0v7.1M1528.1 1132.4v3.6M1531.7 1132.4v3.6M1535.2 1132.4v3.6M1538.8 1136.0v3.6M1542.4 1139.6v7.1M1545.9 1132.4v7.1M1549.5 1132.4v3.6M1553.1 1136.0v7.1M1556.6 1143.1v3.6M1560.2 1146.7v3.6M1563.8 1146.7v3.6M1567.4 1150.3v3.6M1570.9 1153.9v3.6M1574.5 1146.7v7.1M1578.1 1143.1v3.6M1581.6 1143.1v3.6M1585.2 1146.7v3.6M1588.8 1146.7v3.6M1592.3 1146.7v7.1M1595.9 1143.1v3.6"/>
</g>
</svg>
</body></html>
